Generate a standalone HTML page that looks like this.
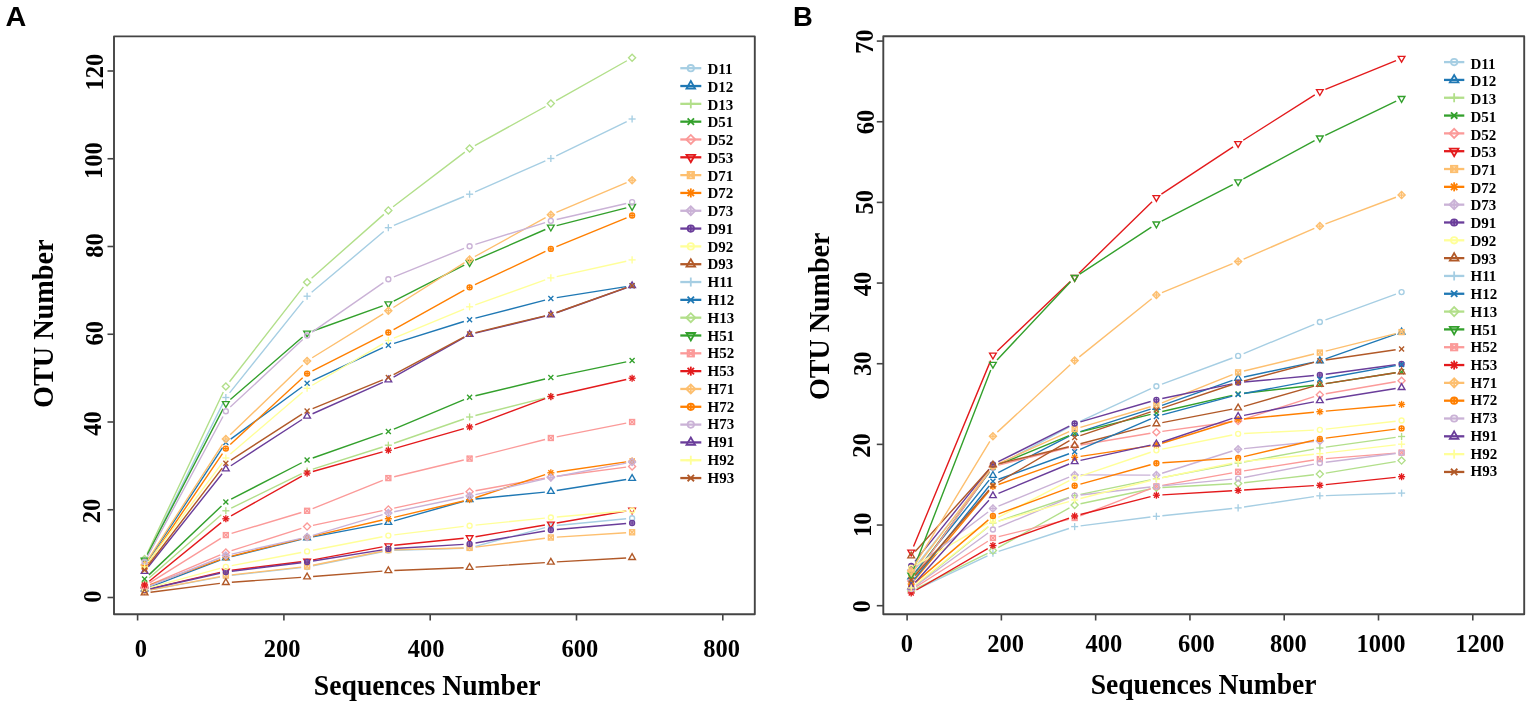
<!DOCTYPE html>
<html><head><meta charset="utf-8"><title>OTU rarefaction curves</title>
<style>
html,body{margin:0;padding:0;background:#fff;}
body{width:1535px;height:709px;overflow:hidden;}
svg{display:block;}
.pl{font-family:"Liberation Sans",Arial,sans-serif;font-weight:bold;font-size:27.4px;fill:#000;}
.tl{font-family:"Liberation Serif","Times New Roman",serif;font-weight:bold;font-size:24.5px;fill:#000;}
.ax{font-family:"Liberation Serif","Times New Roman",serif;font-weight:bold;font-size:29px;fill:#000;}
.lg{font-family:"Liberation Serif","Times New Roman",serif;font-weight:bold;font-size:15px;fill:#000;}
.tk{stroke:#444;stroke-width:1.6;}
</style></head>
<body>
<svg width="1535" height="709" viewBox="0 0 1535 709">
<rect width="1535" height="709" fill="#fff"/>
<text x="5.6" y="26" class="pl" textLength="20.8" lengthAdjust="spacingAndGlyphs">A</text>
<rect x="114" y="36.4" width="640.8" height="577.9" fill="none" stroke="#444" stroke-width="1.9" stroke-linejoin="round"/>
<line x1="107.5" y1="597.50" x2="114" y2="597.50" class="tk"/>
<text transform="translate(100.9 596.50) rotate(-90)" class="tl" text-anchor="middle">0</text>
<line x1="107.5" y1="509.75" x2="114" y2="509.75" class="tk"/>
<text transform="translate(99.5 510.90) rotate(-90)" class="tl" text-anchor="middle">20</text>
<line x1="107.5" y1="422.00" x2="114" y2="422.00" class="tk"/>
<text transform="translate(100.9 423.60) rotate(-90)" class="tl" text-anchor="middle">40</text>
<line x1="107.5" y1="334.25" x2="114" y2="334.25" class="tk"/>
<text transform="translate(102.9 333.20) rotate(-90)" class="tl" text-anchor="middle">60</text>
<line x1="107.5" y1="246.50" x2="114" y2="246.50" class="tk"/>
<text transform="translate(102.6 245.40) rotate(-90)" class="tl" text-anchor="middle">80</text>
<line x1="107.5" y1="158.75" x2="114" y2="158.75" class="tk"/>
<text transform="translate(101.7 160.65) rotate(-90)" class="tl" text-anchor="middle">100</text>
<line x1="107.5" y1="71.00" x2="114" y2="71.00" class="tk"/>
<text transform="translate(102.9 72.10) rotate(-90)" class="tl" text-anchor="middle">120</text>
<line x1="137.60" y1="614" x2="137.60" y2="620.5" class="tk"/>
<text x="140.75" y="656.8" class="tl" text-anchor="middle">0</text>
<line x1="283.90" y1="614" x2="283.90" y2="620.5" class="tk"/>
<text x="282.20" y="656.8" class="tl" text-anchor="middle">200</text>
<line x1="430.20" y1="614" x2="430.20" y2="620.5" class="tk"/>
<text x="426.20" y="656.8" class="tl" text-anchor="middle">400</text>
<line x1="576.50" y1="614" x2="576.50" y2="620.5" class="tk"/>
<text x="579.90" y="656.8" class="tl" text-anchor="middle">600</text>
<line x1="722.80" y1="614" x2="722.80" y2="620.5" class="tk"/>
<text x="721.70" y="656.8" class="tl" text-anchor="middle">800</text>
<text x="427.2" y="695.4" class="ax" text-anchor="middle" textLength="226.7" lengthAdjust="spacingAndGlyphs">Sequences Number</text>
<text transform="translate(52.9 323.7) rotate(-90)" class="ax" text-anchor="middle" textLength="168.5" lengthAdjust="spacingAndGlyphs">OTU Number</text>
<path d="M150.50 589.91L219.95 577.09M231.81 575.34L301.14 567.66M312.98 565.81L382.47 551.69M394.35 550.32L463.60 548.18M475.39 546.43L545.06 527.57M556.82 525.43L626.13 518.77" stroke="#A6CEE3" stroke-width="1.4" fill="none"/><g stroke="#A6CEE3" stroke-width="1.35" fill="none"><circle cx="144.60" cy="591.00" r="2.50"/></g><g stroke="#A6CEE3" stroke-width="1.35" fill="none"><circle cx="225.85" cy="576.00" r="2.50"/></g><g stroke="#A6CEE3" stroke-width="1.35" fill="none"><circle cx="307.10" cy="567.00" r="2.50"/></g><g stroke="#A6CEE3" stroke-width="1.35" fill="none"><circle cx="388.35" cy="550.50" r="2.50"/></g><g stroke="#A6CEE3" stroke-width="1.35" fill="none"><circle cx="469.60" cy="548.00" r="2.50"/></g><g stroke="#A6CEE3" stroke-width="1.35" fill="none"><circle cx="550.85" cy="526.00" r="2.50"/></g><g stroke="#A6CEE3" stroke-width="1.35" fill="none"><circle cx="632.10" cy="518.20" r="2.50"/></g>
<path d="M150.21 586.86L220.24 560.14M231.68 556.57L301.27 539.43M312.99 536.88L382.46 523.62M394.13 520.87L463.82 501.23M475.57 499.00L544.88 492.10M556.77 490.55L626.18 479.45" stroke="#1F78B4" stroke-width="1.4" fill="none"/><g stroke="#1F78B4" stroke-width="1.35" fill="none"><polygon points="144.60,585.11 147.97,590.94 141.23,590.94"/></g><g stroke="#1F78B4" stroke-width="1.35" fill="none"><polygon points="225.85,554.11 229.22,559.94 222.48,559.94"/></g><g stroke="#1F78B4" stroke-width="1.35" fill="none"><polygon points="307.10,534.11 310.47,539.94 303.73,539.94"/></g><g stroke="#1F78B4" stroke-width="1.35" fill="none"><polygon points="388.35,518.61 391.72,524.44 384.98,524.44"/></g><g stroke="#1F78B4" stroke-width="1.35" fill="none"><polygon points="469.60,495.71 472.97,501.54 466.23,501.54"/></g><g stroke="#1F78B4" stroke-width="1.35" fill="none"><polygon points="550.85,487.61 554.22,493.44 547.48,493.44"/></g><g stroke="#1F78B4" stroke-width="1.35" fill="none"><polygon points="632.10,474.61 635.47,480.44 628.73,480.44"/></g>
<path d="M149.11 578.05L221.34 514.75M231.24 508.16L301.71 473.64M312.82 469.18L382.63 447.02M394.02 443.23L463.93 418.97M475.42 415.53L545.03 397.87" stroke="#B2DF8A" stroke-width="1.4" fill="none"/><g stroke="#B2DF8A" stroke-width="1.35" fill="none"><line x1="141.06" y1="582.00" x2="148.14" y2="582.00"/><line x1="144.60" y1="578.46" x2="144.60" y2="585.54"/></g><g stroke="#B2DF8A" stroke-width="1.35" fill="none"><line x1="222.31" y1="510.80" x2="229.39" y2="510.80"/><line x1="225.85" y1="507.26" x2="225.85" y2="514.34"/></g><g stroke="#B2DF8A" stroke-width="1.35" fill="none"><line x1="303.56" y1="471.00" x2="310.64" y2="471.00"/><line x1="307.10" y1="467.46" x2="307.10" y2="474.54"/></g><g stroke="#B2DF8A" stroke-width="1.35" fill="none"><line x1="384.81" y1="445.20" x2="391.89" y2="445.20"/><line x1="388.35" y1="441.66" x2="388.35" y2="448.74"/></g><g stroke="#B2DF8A" stroke-width="1.35" fill="none"><line x1="466.06" y1="417.00" x2="473.14" y2="417.00"/><line x1="469.60" y1="413.46" x2="469.60" y2="420.54"/></g><g stroke="#B2DF8A" stroke-width="1.35" fill="none"><line x1="547.31" y1="396.40" x2="554.39" y2="396.40"/><line x1="550.85" y1="392.86" x2="550.85" y2="399.94"/></g>
<path d="M148.95 574.87L221.50 506.03M231.18 499.15L301.77 462.75M312.76 458.01L382.69 433.39M393.88 429.07L464.07 399.53M475.43 395.79L545.02 379.01M556.72 376.37L626.23 361.83" stroke="#33A02C" stroke-width="1.4" fill="none"/><g stroke="#33A02C" stroke-width="1.35" fill="none"><line x1="142.10" y1="576.50" x2="147.10" y2="581.50"/><line x1="142.10" y1="581.50" x2="147.10" y2="576.50"/></g><g stroke="#33A02C" stroke-width="1.35" fill="none"><line x1="223.35" y1="499.40" x2="228.35" y2="504.40"/><line x1="223.35" y1="504.40" x2="228.35" y2="499.40"/></g><g stroke="#33A02C" stroke-width="1.35" fill="none"><line x1="304.60" y1="457.50" x2="309.60" y2="462.50"/><line x1="304.60" y1="462.50" x2="309.60" y2="457.50"/></g><g stroke="#33A02C" stroke-width="1.35" fill="none"><line x1="385.85" y1="428.90" x2="390.85" y2="433.90"/><line x1="385.85" y1="433.90" x2="390.85" y2="428.90"/></g><g stroke="#33A02C" stroke-width="1.35" fill="none"><line x1="467.10" y1="394.70" x2="472.10" y2="399.70"/><line x1="467.10" y1="399.70" x2="472.10" y2="394.70"/></g><g stroke="#33A02C" stroke-width="1.35" fill="none"><line x1="548.35" y1="375.10" x2="553.35" y2="380.10"/><line x1="548.35" y1="380.10" x2="553.35" y2="375.10"/></g><g stroke="#33A02C" stroke-width="1.35" fill="none"><line x1="629.60" y1="358.10" x2="634.60" y2="363.10"/><line x1="629.60" y1="363.10" x2="634.60" y2="358.10"/></g>
<path d="M150.12 584.65L220.33 554.85M231.57 550.68L301.38 528.42M312.97 525.36L382.48 510.64M394.21 508.13L463.74 493.07M475.50 490.72L544.95 478.08M556.80 476.22L626.15 467.18" stroke="#FB9A99" stroke-width="1.4" fill="none"/><g stroke="#FB9A99" stroke-width="1.35" fill="none"><polygon points="141.06,587.00 144.60,583.46 148.14,587.00 144.60,590.54"/></g><g stroke="#FB9A99" stroke-width="1.35" fill="none"><polygon points="222.31,552.50 225.85,548.96 229.39,552.50 225.85,556.04"/></g><g stroke="#FB9A99" stroke-width="1.35" fill="none"><polygon points="303.56,526.60 307.10,523.06 310.64,526.60 307.10,530.14"/></g><g stroke="#FB9A99" stroke-width="1.35" fill="none"><polygon points="384.81,509.40 388.35,505.86 391.89,509.40 388.35,512.94"/></g><g stroke="#FB9A99" stroke-width="1.35" fill="none"><polygon points="466.06,491.80 469.60,488.26 473.14,491.80 469.60,495.34"/></g><g stroke="#FB9A99" stroke-width="1.35" fill="none"><polygon points="547.31,477.00 550.85,473.46 554.39,477.00 550.85,480.54"/></g><g stroke="#FB9A99" stroke-width="1.35" fill="none"><polygon points="628.56,466.40 632.10,462.86 635.64,466.40 632.10,469.94"/></g>
<path d="M150.44 588.63L220.01 572.37M231.81 570.27L301.14 561.73M313.00 559.90L382.45 546.90M394.32 545.20L463.63 538.30M475.52 536.70L544.93 525.00M556.76 522.98L626.19 511.02" stroke="#E31A1C" stroke-width="1.4" fill="none"/><g stroke="#E31A1C" stroke-width="1.35" fill="none"><polygon points="144.60,593.89 147.97,588.06 141.23,588.06"/></g><g stroke="#E31A1C" stroke-width="1.35" fill="none"><polygon points="225.85,574.89 229.22,569.06 222.48,569.06"/></g><g stroke="#E31A1C" stroke-width="1.35" fill="none"><polygon points="307.10,564.89 310.47,559.06 303.73,559.06"/></g><g stroke="#E31A1C" stroke-width="1.35" fill="none"><polygon points="388.35,549.69 391.72,543.86 384.98,543.86"/></g><g stroke="#E31A1C" stroke-width="1.35" fill="none"><polygon points="469.60,541.59 472.97,535.76 466.23,535.76"/></g><g stroke="#E31A1C" stroke-width="1.35" fill="none"><polygon points="550.85,527.89 554.22,522.06 547.48,522.06"/></g><g stroke="#E31A1C" stroke-width="1.35" fill="none"><polygon points="632.10,513.89 635.47,508.06 628.73,508.06"/></g>
<path d="M150.49 589.88L219.96 576.62M231.81 574.84L301.14 567.16M312.98 565.31L382.47 551.19M394.35 549.84L463.60 548.06M475.55 547.14L544.90 538.26M556.84 537.12L626.11 532.68" stroke="#FDBF6F" stroke-width="1.4" fill="none"/><g stroke="#FDBF6F" stroke-width="1.35" fill="none"><rect x="142.10" y="588.50" width="5.00" height="5.00"/><line x1="142.10" y1="588.50" x2="147.10" y2="593.50"/><line x1="142.10" y1="593.50" x2="147.10" y2="588.50"/></g><g stroke="#FDBF6F" stroke-width="1.35" fill="none"><rect x="223.35" y="573.00" width="5.00" height="5.00"/><line x1="223.35" y1="573.00" x2="228.35" y2="578.00"/><line x1="223.35" y1="578.00" x2="228.35" y2="573.00"/></g><g stroke="#FDBF6F" stroke-width="1.35" fill="none"><rect x="304.60" y="564.00" width="5.00" height="5.00"/><line x1="304.60" y1="564.00" x2="309.60" y2="569.00"/><line x1="304.60" y1="569.00" x2="309.60" y2="564.00"/></g><g stroke="#FDBF6F" stroke-width="1.35" fill="none"><rect x="385.85" y="547.50" width="5.00" height="5.00"/><line x1="385.85" y1="547.50" x2="390.85" y2="552.50"/><line x1="385.85" y1="552.50" x2="390.85" y2="547.50"/></g><g stroke="#FDBF6F" stroke-width="1.35" fill="none"><rect x="467.10" y="545.40" width="5.00" height="5.00"/><line x1="467.10" y1="545.40" x2="472.10" y2="550.40"/><line x1="467.10" y1="550.40" x2="472.10" y2="545.40"/></g><g stroke="#FDBF6F" stroke-width="1.35" fill="none"><rect x="548.35" y="535.00" width="5.00" height="5.00"/><line x1="548.35" y1="535.00" x2="553.35" y2="540.00"/><line x1="548.35" y1="540.00" x2="553.35" y2="535.00"/></g><g stroke="#FDBF6F" stroke-width="1.35" fill="none"><rect x="629.60" y="529.80" width="5.00" height="5.00"/><line x1="629.60" y1="529.80" x2="634.60" y2="534.80"/><line x1="629.60" y1="534.80" x2="634.60" y2="529.80"/></g>
<path d="M150.24 584.95L220.21 559.55M231.68 556.07L301.27 538.93M312.95 536.15L382.50 520.05M394.19 517.33L463.76 500.97M475.30 497.72L545.15 474.68M556.79 471.94L626.16 461.86" stroke="#FF7F00" stroke-width="1.4" fill="none"/><g stroke="#FF7F00" stroke-width="1.35" fill="none"><line x1="142.10" y1="584.50" x2="147.10" y2="589.50"/><line x1="142.10" y1="589.50" x2="147.10" y2="584.50"/><line x1="141.06" y1="587.00" x2="148.14" y2="587.00"/><line x1="144.60" y1="583.46" x2="144.60" y2="590.54"/></g><g stroke="#FF7F00" stroke-width="1.35" fill="none"><line x1="223.35" y1="555.00" x2="228.35" y2="560.00"/><line x1="223.35" y1="560.00" x2="228.35" y2="555.00"/><line x1="222.31" y1="557.50" x2="229.39" y2="557.50"/><line x1="225.85" y1="553.96" x2="225.85" y2="561.04"/></g><g stroke="#FF7F00" stroke-width="1.35" fill="none"><line x1="304.60" y1="535.00" x2="309.60" y2="540.00"/><line x1="304.60" y1="540.00" x2="309.60" y2="535.00"/><line x1="303.56" y1="537.50" x2="310.64" y2="537.50"/><line x1="307.10" y1="533.96" x2="307.10" y2="541.04"/></g><g stroke="#FF7F00" stroke-width="1.35" fill="none"><line x1="385.85" y1="516.20" x2="390.85" y2="521.20"/><line x1="385.85" y1="521.20" x2="390.85" y2="516.20"/><line x1="384.81" y1="518.70" x2="391.89" y2="518.70"/><line x1="388.35" y1="515.16" x2="388.35" y2="522.24"/></g><g stroke="#FF7F00" stroke-width="1.35" fill="none"><line x1="467.10" y1="497.10" x2="472.10" y2="502.10"/><line x1="467.10" y1="502.10" x2="472.10" y2="497.10"/><line x1="466.06" y1="499.60" x2="473.14" y2="499.60"/><line x1="469.60" y1="496.06" x2="469.60" y2="503.14"/></g><g stroke="#FF7F00" stroke-width="1.35" fill="none"><line x1="548.35" y1="470.30" x2="553.35" y2="475.30"/><line x1="548.35" y1="475.30" x2="553.35" y2="470.30"/><line x1="547.31" y1="472.80" x2="554.39" y2="472.80"/><line x1="550.85" y1="469.26" x2="550.85" y2="476.34"/></g><g stroke="#FF7F00" stroke-width="1.35" fill="none"><line x1="629.60" y1="458.50" x2="634.60" y2="463.50"/><line x1="629.60" y1="463.50" x2="634.60" y2="458.50"/><line x1="628.56" y1="461.00" x2="635.64" y2="461.00"/><line x1="632.10" y1="457.46" x2="632.10" y2="464.54"/></g>
<path d="M150.17 585.77L220.28 557.73M231.70 554.17L301.25 538.33M312.85 535.30L382.60 514.70M394.22 511.77L463.73 497.23M475.45 494.67L545.00 478.93M556.74 476.47L626.21 463.13" stroke="#CAB2D6" stroke-width="1.4" fill="none"/><g stroke="#CAB2D6" stroke-width="1.35" fill="none"><polygon points="141.06,588.00 144.60,584.46 148.14,588.00 144.60,591.54"/><line x1="141.06" y1="588.00" x2="148.14" y2="588.00"/><line x1="144.60" y1="584.46" x2="144.60" y2="591.54"/></g><g stroke="#CAB2D6" stroke-width="1.35" fill="none"><polygon points="222.31,555.50 225.85,551.96 229.39,555.50 225.85,559.04"/><line x1="222.31" y1="555.50" x2="229.39" y2="555.50"/><line x1="225.85" y1="551.96" x2="225.85" y2="559.04"/></g><g stroke="#CAB2D6" stroke-width="1.35" fill="none"><polygon points="303.56,537.00 307.10,533.46 310.64,537.00 307.10,540.54"/><line x1="303.56" y1="537.00" x2="310.64" y2="537.00"/><line x1="307.10" y1="533.46" x2="307.10" y2="540.54"/></g><g stroke="#CAB2D6" stroke-width="1.35" fill="none"><polygon points="384.81,513.00 388.35,509.46 391.89,513.00 388.35,516.54"/><line x1="384.81" y1="513.00" x2="391.89" y2="513.00"/><line x1="388.35" y1="509.46" x2="388.35" y2="516.54"/></g><g stroke="#CAB2D6" stroke-width="1.35" fill="none"><polygon points="466.06,496.00 469.60,492.46 473.14,496.00 469.60,499.54"/><line x1="466.06" y1="496.00" x2="473.14" y2="496.00"/><line x1="469.60" y1="492.46" x2="469.60" y2="499.54"/></g><g stroke="#CAB2D6" stroke-width="1.35" fill="none"><polygon points="547.31,477.60 550.85,474.06 554.39,477.60 550.85,481.14"/><line x1="547.31" y1="477.60" x2="554.39" y2="477.60"/><line x1="550.85" y1="474.06" x2="550.85" y2="481.14"/></g><g stroke="#CAB2D6" stroke-width="1.35" fill="none"><polygon points="628.56,462.00 632.10,458.46 635.64,462.00 632.10,465.54"/><line x1="628.56" y1="462.00" x2="635.64" y2="462.00"/><line x1="632.10" y1="458.46" x2="632.10" y2="465.54"/></g>
<path d="M150.46 588.70L219.99 573.30M231.81 571.27L301.14 562.73M313.02 561.04L382.43 549.86M394.34 548.54L463.61 544.36M475.51 542.98L544.94 531.02M556.83 529.48L626.12 523.52" stroke="#6A3D9A" stroke-width="1.4" fill="none"/><g stroke="#6A3D9A" stroke-width="1.35" fill="none"><circle cx="144.60" cy="590.00" r="2.50"/><line x1="142.10" y1="590.00" x2="147.10" y2="590.00"/><line x1="144.60" y1="587.50" x2="144.60" y2="592.50"/></g><g stroke="#6A3D9A" stroke-width="1.35" fill="none"><circle cx="225.85" cy="572.00" r="2.50"/><line x1="223.35" y1="572.00" x2="228.35" y2="572.00"/><line x1="225.85" y1="569.50" x2="225.85" y2="574.50"/></g><g stroke="#6A3D9A" stroke-width="1.35" fill="none"><circle cx="307.10" cy="562.00" r="2.50"/><line x1="304.60" y1="562.00" x2="309.60" y2="562.00"/><line x1="307.10" y1="559.50" x2="307.10" y2="564.50"/></g><g stroke="#6A3D9A" stroke-width="1.35" fill="none"><circle cx="388.35" cy="548.90" r="2.50"/><line x1="385.85" y1="548.90" x2="390.85" y2="548.90"/><line x1="388.35" y1="546.40" x2="388.35" y2="551.40"/></g><g stroke="#6A3D9A" stroke-width="1.35" fill="none"><circle cx="469.60" cy="544.00" r="2.50"/><line x1="467.10" y1="544.00" x2="472.10" y2="544.00"/><line x1="469.60" y1="541.50" x2="469.60" y2="546.50"/></g><g stroke="#6A3D9A" stroke-width="1.35" fill="none"><circle cx="550.85" cy="530.00" r="2.50"/><line x1="548.35" y1="530.00" x2="553.35" y2="530.00"/><line x1="550.85" y1="527.50" x2="550.85" y2="532.50"/></g><g stroke="#6A3D9A" stroke-width="1.35" fill="none"><circle cx="632.10" cy="523.00" r="2.50"/><line x1="629.60" y1="523.00" x2="634.60" y2="523.00"/><line x1="632.10" y1="520.50" x2="632.10" y2="525.50"/></g>
<path d="M150.39 587.42L220.06 568.38M231.75 565.68L301.20 552.52M312.99 550.25L382.46 536.75M394.31 534.87L463.64 526.43M475.57 525.10L544.88 518.10M556.83 516.98L626.12 511.02" stroke="#FFFF99" stroke-width="1.4" fill="none"/><g stroke="#FFFF99" stroke-width="1.35" fill="none"><circle cx="144.60" cy="589.00" r="2.50"/></g><g stroke="#FFFF99" stroke-width="1.35" fill="none"><circle cx="225.85" cy="566.80" r="2.50"/></g><g stroke="#FFFF99" stroke-width="1.35" fill="none"><circle cx="307.10" cy="551.40" r="2.50"/></g><g stroke="#FFFF99" stroke-width="1.35" fill="none"><circle cx="388.35" cy="535.60" r="2.50"/></g><g stroke="#FFFF99" stroke-width="1.35" fill="none"><circle cx="469.60" cy="525.70" r="2.50"/></g><g stroke="#FFFF99" stroke-width="1.35" fill="none"><circle cx="550.85" cy="517.50" r="2.50"/></g><g stroke="#FFFF99" stroke-width="1.35" fill="none"><circle cx="632.10" cy="510.50" r="2.50"/></g>
<path d="M150.55 592.24L219.90 583.36M231.84 582.19L301.11 577.41M313.08 576.54L382.37 571.16M394.35 570.46L463.60 567.74M475.59 567.11L544.86 562.59M556.84 561.86L626.11 557.94" stroke="#B15928" stroke-width="1.4" fill="none"/><g stroke="#B15928" stroke-width="1.35" fill="none"><polygon points="144.60,589.11 147.97,594.94 141.23,594.94"/></g><g stroke="#B15928" stroke-width="1.35" fill="none"><polygon points="225.85,578.71 229.22,584.54 222.48,584.54"/></g><g stroke="#B15928" stroke-width="1.35" fill="none"><polygon points="307.10,573.11 310.47,578.94 303.73,578.94"/></g><g stroke="#B15928" stroke-width="1.35" fill="none"><polygon points="388.35,566.81 391.72,572.64 384.98,572.64"/></g><g stroke="#B15928" stroke-width="1.35" fill="none"><polygon points="469.60,563.61 472.97,569.44 466.23,569.44"/></g><g stroke="#B15928" stroke-width="1.35" fill="none"><polygon points="550.85,558.31 554.22,564.14 547.48,564.14"/></g><g stroke="#B15928" stroke-width="1.35" fill="none"><polygon points="632.10,553.71 635.47,559.54 628.73,559.54"/></g>
<path d="M147.28 554.63L223.17 402.87M229.60 392.82L303.35 300.88M311.69 292.33L383.76 231.57M393.90 225.41L464.05 196.49M475.09 191.79L545.36 160.91M556.25 155.88L626.70 121.62" stroke="#A6CEE3" stroke-width="1.4" fill="none"/><g stroke="#A6CEE3" stroke-width="1.35" fill="none"><line x1="141.06" y1="560.00" x2="148.14" y2="560.00"/><line x1="144.60" y1="556.46" x2="144.60" y2="563.54"/></g><g stroke="#A6CEE3" stroke-width="1.35" fill="none"><line x1="222.31" y1="397.50" x2="229.39" y2="397.50"/><line x1="225.85" y1="393.96" x2="225.85" y2="401.04"/></g><g stroke="#A6CEE3" stroke-width="1.35" fill="none"><line x1="303.56" y1="296.20" x2="310.64" y2="296.20"/><line x1="307.10" y1="292.66" x2="307.10" y2="299.74"/></g><g stroke="#A6CEE3" stroke-width="1.35" fill="none"><line x1="384.81" y1="227.70" x2="391.89" y2="227.70"/><line x1="388.35" y1="224.16" x2="388.35" y2="231.24"/></g><g stroke="#A6CEE3" stroke-width="1.35" fill="none"><line x1="466.06" y1="194.20" x2="473.14" y2="194.20"/><line x1="469.60" y1="190.66" x2="469.60" y2="197.74"/></g><g stroke="#A6CEE3" stroke-width="1.35" fill="none"><line x1="547.31" y1="158.50" x2="554.39" y2="158.50"/><line x1="550.85" y1="154.96" x2="550.85" y2="162.04"/></g><g stroke="#A6CEE3" stroke-width="1.35" fill="none"><line x1="628.56" y1="119.00" x2="635.64" y2="119.00"/><line x1="632.10" y1="115.46" x2="632.10" y2="122.54"/></g>
<path d="M147.90 560.99L222.55 447.61M230.69 439.06L302.26 386.74M312.53 380.66L382.92 347.74M394.07 343.40L463.88 321.50M475.41 318.19L545.04 300.11M556.78 297.66L626.17 286.64" stroke="#1F78B4" stroke-width="1.4" fill="none"/><g stroke="#1F78B4" stroke-width="1.35" fill="none"><line x1="142.10" y1="563.50" x2="147.10" y2="568.50"/><line x1="142.10" y1="568.50" x2="147.10" y2="563.50"/></g><g stroke="#1F78B4" stroke-width="1.35" fill="none"><line x1="223.35" y1="440.10" x2="228.35" y2="445.10"/><line x1="223.35" y1="445.10" x2="228.35" y2="440.10"/></g><g stroke="#1F78B4" stroke-width="1.35" fill="none"><line x1="304.60" y1="380.70" x2="309.60" y2="385.70"/><line x1="304.60" y1="385.70" x2="309.60" y2="380.70"/></g><g stroke="#1F78B4" stroke-width="1.35" fill="none"><line x1="385.85" y1="342.70" x2="390.85" y2="347.70"/><line x1="385.85" y1="347.70" x2="390.85" y2="342.70"/></g><g stroke="#1F78B4" stroke-width="1.35" fill="none"><line x1="467.10" y1="317.20" x2="472.10" y2="322.20"/><line x1="467.10" y1="322.20" x2="472.10" y2="317.20"/></g><g stroke="#1F78B4" stroke-width="1.35" fill="none"><line x1="548.35" y1="296.10" x2="553.35" y2="301.10"/><line x1="548.35" y1="301.10" x2="553.35" y2="296.10"/></g><g stroke="#1F78B4" stroke-width="1.35" fill="none"><line x1="629.60" y1="283.20" x2="634.60" y2="288.20"/><line x1="629.60" y1="288.20" x2="634.60" y2="283.20"/></g>
<path d="M147.16 553.57L223.29 391.93M229.54 381.77L303.41 286.93M311.60 278.23L383.85 214.37M393.12 206.76L464.83 152.14M474.85 145.60L545.60 106.50M556.08 100.65L626.87 60.75" stroke="#B2DF8A" stroke-width="1.4" fill="none"/><g stroke="#B2DF8A" stroke-width="1.35" fill="none"><polygon points="141.06,559.00 144.60,555.46 148.14,559.00 144.60,562.54"/></g><g stroke="#B2DF8A" stroke-width="1.35" fill="none"><polygon points="222.31,386.50 225.85,382.96 229.39,386.50 225.85,390.04"/></g><g stroke="#B2DF8A" stroke-width="1.35" fill="none"><polygon points="303.56,282.20 307.10,278.66 310.64,282.20 307.10,285.74"/></g><g stroke="#B2DF8A" stroke-width="1.35" fill="none"><polygon points="384.81,210.40 388.35,206.86 391.89,210.40 388.35,213.94"/></g><g stroke="#B2DF8A" stroke-width="1.35" fill="none"><polygon points="466.06,148.50 469.60,144.96 473.14,148.50 469.60,152.04"/></g><g stroke="#B2DF8A" stroke-width="1.35" fill="none"><polygon points="547.31,103.60 550.85,100.06 554.39,103.60 550.85,107.14"/></g><g stroke="#B2DF8A" stroke-width="1.35" fill="none"><polygon points="628.56,57.80 632.10,54.26 635.64,57.80 632.10,61.34"/></g>
<path d="M147.36 554.67L223.09 408.83M230.38 399.57L302.57 336.93M312.75 330.97L382.70 305.83M393.70 301.08L464.25 265.22M475.10 260.10L545.35 229.50M556.66 225.62L626.29 207.88" stroke="#33A02C" stroke-width="1.4" fill="none"/><g stroke="#33A02C" stroke-width="1.35" fill="none"><polygon points="144.60,563.89 147.97,558.06 141.23,558.06"/></g><g stroke="#33A02C" stroke-width="1.35" fill="none"><polygon points="225.85,407.39 229.22,401.56 222.48,401.56"/></g><g stroke="#33A02C" stroke-width="1.35" fill="none"><polygon points="307.10,336.89 310.47,331.06 303.73,331.06"/></g><g stroke="#33A02C" stroke-width="1.35" fill="none"><polygon points="388.35,307.69 391.72,301.86 384.98,301.86"/></g><g stroke="#33A02C" stroke-width="1.35" fill="none"><polygon points="469.60,266.39 472.97,260.56 466.23,260.56"/></g><g stroke="#33A02C" stroke-width="1.35" fill="none"><polygon points="550.85,230.99 554.22,225.16 547.48,225.16"/></g><g stroke="#33A02C" stroke-width="1.35" fill="none"><polygon points="632.10,210.29 635.47,204.46 628.73,204.46"/></g>
<path d="M149.68 582.81L220.77 538.29M231.60 533.38L301.35 512.52M312.67 508.56L382.78 480.34M394.18 476.70L463.77 460.00M475.42 457.13L545.03 439.47M556.74 436.84L626.21 423.16" stroke="#FB9A99" stroke-width="1.4" fill="none"/><g stroke="#FB9A99" stroke-width="1.35" fill="none"><rect x="142.10" y="583.50" width="5.00" height="5.00"/><line x1="142.10" y1="583.50" x2="147.10" y2="588.50"/><line x1="142.10" y1="588.50" x2="147.10" y2="583.50"/></g><g stroke="#FB9A99" stroke-width="1.35" fill="none"><rect x="223.35" y="532.60" width="5.00" height="5.00"/><line x1="223.35" y1="532.60" x2="228.35" y2="537.60"/><line x1="223.35" y1="537.60" x2="228.35" y2="532.60"/></g><g stroke="#FB9A99" stroke-width="1.35" fill="none"><rect x="304.60" y="508.30" width="5.00" height="5.00"/><line x1="304.60" y1="508.30" x2="309.60" y2="513.30"/><line x1="304.60" y1="513.30" x2="309.60" y2="508.30"/></g><g stroke="#FB9A99" stroke-width="1.35" fill="none"><rect x="385.85" y="475.60" width="5.00" height="5.00"/><line x1="385.85" y1="475.60" x2="390.85" y2="480.60"/><line x1="385.85" y1="480.60" x2="390.85" y2="475.60"/></g><g stroke="#FB9A99" stroke-width="1.35" fill="none"><rect x="467.10" y="456.10" width="5.00" height="5.00"/><line x1="467.10" y1="456.10" x2="472.10" y2="461.10"/><line x1="467.10" y1="461.10" x2="472.10" y2="456.10"/></g><g stroke="#FB9A99" stroke-width="1.35" fill="none"><rect x="548.35" y="435.50" width="5.00" height="5.00"/><line x1="548.35" y1="435.50" x2="553.35" y2="440.50"/><line x1="548.35" y1="440.50" x2="553.35" y2="435.50"/></g><g stroke="#FB9A99" stroke-width="1.35" fill="none"><rect x="629.60" y="419.50" width="5.00" height="5.00"/><line x1="629.60" y1="419.50" x2="634.60" y2="424.50"/><line x1="629.60" y1="424.50" x2="634.60" y2="419.50"/></g>
<path d="M149.25 581.21L221.20 522.59M231.08 515.86L301.87 476.04M312.88 471.47L382.57 451.83M394.12 448.55L463.83 428.55M475.22 424.80L545.23 398.70M556.70 395.27L626.25 379.53" stroke="#E31A1C" stroke-width="1.4" fill="none"/><g stroke="#E31A1C" stroke-width="1.35" fill="none"><line x1="142.10" y1="582.50" x2="147.10" y2="587.50"/><line x1="142.10" y1="587.50" x2="147.10" y2="582.50"/><line x1="141.06" y1="585.00" x2="148.14" y2="585.00"/><line x1="144.60" y1="581.46" x2="144.60" y2="588.54"/></g><g stroke="#E31A1C" stroke-width="1.35" fill="none"><line x1="223.35" y1="516.30" x2="228.35" y2="521.30"/><line x1="223.35" y1="521.30" x2="228.35" y2="516.30"/><line x1="222.31" y1="518.80" x2="229.39" y2="518.80"/><line x1="225.85" y1="515.26" x2="225.85" y2="522.34"/></g><g stroke="#E31A1C" stroke-width="1.35" fill="none"><line x1="304.60" y1="470.60" x2="309.60" y2="475.60"/><line x1="304.60" y1="475.60" x2="309.60" y2="470.60"/><line x1="303.56" y1="473.10" x2="310.64" y2="473.10"/><line x1="307.10" y1="469.56" x2="307.10" y2="476.64"/></g><g stroke="#E31A1C" stroke-width="1.35" fill="none"><line x1="385.85" y1="447.70" x2="390.85" y2="452.70"/><line x1="385.85" y1="452.70" x2="390.85" y2="447.70"/><line x1="384.81" y1="450.20" x2="391.89" y2="450.20"/><line x1="388.35" y1="446.66" x2="388.35" y2="453.74"/></g><g stroke="#E31A1C" stroke-width="1.35" fill="none"><line x1="467.10" y1="424.40" x2="472.10" y2="429.40"/><line x1="467.10" y1="429.40" x2="472.10" y2="424.40"/><line x1="466.06" y1="426.90" x2="473.14" y2="426.90"/><line x1="469.60" y1="423.36" x2="469.60" y2="430.44"/></g><g stroke="#E31A1C" stroke-width="1.35" fill="none"><line x1="548.35" y1="394.10" x2="553.35" y2="399.10"/><line x1="548.35" y1="399.10" x2="553.35" y2="394.10"/><line x1="547.31" y1="396.60" x2="554.39" y2="396.60"/><line x1="550.85" y1="393.06" x2="550.85" y2="400.14"/></g><g stroke="#E31A1C" stroke-width="1.35" fill="none"><line x1="629.60" y1="375.70" x2="634.60" y2="380.70"/><line x1="629.60" y1="380.70" x2="634.60" y2="375.70"/><line x1="628.56" y1="378.20" x2="635.64" y2="378.20"/><line x1="632.10" y1="374.66" x2="632.10" y2="381.74"/></g>
<path d="M147.85 559.96L222.60 444.04M230.18 434.84L302.77 365.06M312.20 357.75L383.25 313.85M393.42 307.50L464.53 262.60M474.86 256.51L545.59 217.69M556.37 212.45L626.58 182.55" stroke="#FDBF6F" stroke-width="1.4" fill="none"/><g stroke="#FDBF6F" stroke-width="1.35" fill="none"><polygon points="141.06,565.00 144.60,561.46 148.14,565.00 144.60,568.54"/><line x1="141.06" y1="565.00" x2="148.14" y2="565.00"/><line x1="144.60" y1="561.46" x2="144.60" y2="568.54"/></g><g stroke="#FDBF6F" stroke-width="1.35" fill="none"><polygon points="222.31,439.00 225.85,435.46 229.39,439.00 225.85,442.54"/><line x1="222.31" y1="439.00" x2="229.39" y2="439.00"/><line x1="225.85" y1="435.46" x2="225.85" y2="442.54"/></g><g stroke="#FDBF6F" stroke-width="1.35" fill="none"><polygon points="303.56,360.90 307.10,357.36 310.64,360.90 307.10,364.44"/><line x1="303.56" y1="360.90" x2="310.64" y2="360.90"/><line x1="307.10" y1="357.36" x2="307.10" y2="364.44"/></g><g stroke="#FDBF6F" stroke-width="1.35" fill="none"><polygon points="384.81,310.70 388.35,307.16 391.89,310.70 388.35,314.24"/><line x1="384.81" y1="310.70" x2="391.89" y2="310.70"/><line x1="388.35" y1="307.16" x2="388.35" y2="314.24"/></g><g stroke="#FDBF6F" stroke-width="1.35" fill="none"><polygon points="466.06,259.40 469.60,255.86 473.14,259.40 469.60,262.94"/><line x1="466.06" y1="259.40" x2="473.14" y2="259.40"/><line x1="469.60" y1="255.86" x2="469.60" y2="262.94"/></g><g stroke="#FDBF6F" stroke-width="1.35" fill="none"><polygon points="547.31,214.80 550.85,211.26 554.39,214.80 550.85,218.34"/><line x1="547.31" y1="214.80" x2="554.39" y2="214.80"/><line x1="550.85" y1="211.26" x2="550.85" y2="218.34"/></g><g stroke="#FDBF6F" stroke-width="1.35" fill="none"><polygon points="628.56,180.20 632.10,176.66 635.64,180.20 632.10,183.74"/><line x1="628.56" y1="180.20" x2="635.64" y2="180.20"/><line x1="632.10" y1="176.66" x2="632.10" y2="183.74"/></g>
<path d="M147.98 563.04L222.47 453.56M230.26 444.53L302.69 377.67M312.45 370.89L383.00 335.21M393.59 329.58L464.36 290.22M475.02 284.74L545.43 251.46M556.40 246.62L626.55 217.78" stroke="#FF7F00" stroke-width="1.4" fill="none"/><g stroke="#FF7F00" stroke-width="1.35" fill="none"><circle cx="144.60" cy="568.00" r="2.50"/><line x1="142.10" y1="568.00" x2="147.10" y2="568.00"/><line x1="144.60" y1="565.50" x2="144.60" y2="570.50"/></g><g stroke="#FF7F00" stroke-width="1.35" fill="none"><circle cx="225.85" cy="448.60" r="2.50"/><line x1="223.35" y1="448.60" x2="228.35" y2="448.60"/><line x1="225.85" y1="446.10" x2="225.85" y2="451.10"/></g><g stroke="#FF7F00" stroke-width="1.35" fill="none"><circle cx="307.10" cy="373.60" r="2.50"/><line x1="304.60" y1="373.60" x2="309.60" y2="373.60"/><line x1="307.10" y1="371.10" x2="307.10" y2="376.10"/></g><g stroke="#FF7F00" stroke-width="1.35" fill="none"><circle cx="388.35" cy="332.50" r="2.50"/><line x1="385.85" y1="332.50" x2="390.85" y2="332.50"/><line x1="388.35" y1="330.00" x2="388.35" y2="335.00"/></g><g stroke="#FF7F00" stroke-width="1.35" fill="none"><circle cx="469.60" cy="287.30" r="2.50"/><line x1="467.10" y1="287.30" x2="472.10" y2="287.30"/><line x1="469.60" y1="284.80" x2="469.60" y2="289.80"/></g><g stroke="#FF7F00" stroke-width="1.35" fill="none"><circle cx="550.85" cy="248.90" r="2.50"/><line x1="548.35" y1="248.90" x2="553.35" y2="248.90"/><line x1="550.85" y1="246.40" x2="550.85" y2="251.40"/></g><g stroke="#FF7F00" stroke-width="1.35" fill="none"><circle cx="632.10" cy="215.50" r="2.50"/><line x1="629.60" y1="215.50" x2="634.60" y2="215.50"/><line x1="632.10" y1="213.00" x2="632.10" y2="218.00"/></g>
<path d="M147.45 556.72L223.00 416.48M230.24 407.11L302.71 339.59M312.03 332.08L383.42 282.62M393.91 276.94L464.04 248.46M475.33 244.41L545.12 222.59M556.70 219.45L626.25 203.45" stroke="#CAB2D6" stroke-width="1.4" fill="none"/><g stroke="#CAB2D6" stroke-width="1.35" fill="none"><circle cx="144.60" cy="562.00" r="2.50"/></g><g stroke="#CAB2D6" stroke-width="1.35" fill="none"><circle cx="225.85" cy="411.20" r="2.50"/></g><g stroke="#CAB2D6" stroke-width="1.35" fill="none"><circle cx="307.10" cy="335.50" r="2.50"/></g><g stroke="#CAB2D6" stroke-width="1.35" fill="none"><circle cx="388.35" cy="279.20" r="2.50"/></g><g stroke="#CAB2D6" stroke-width="1.35" fill="none"><circle cx="469.60" cy="246.20" r="2.50"/></g><g stroke="#CAB2D6" stroke-width="1.35" fill="none"><circle cx="550.85" cy="220.80" r="2.50"/></g><g stroke="#CAB2D6" stroke-width="1.35" fill="none"><circle cx="632.10" cy="202.10" r="2.50"/></g>
<path d="M148.33 566.80L222.12 473.70M230.88 465.73L302.07 419.47M312.58 413.76L382.87 382.44M393.59 377.07L464.36 337.43M475.43 333.09L545.02 316.21M556.50 312.78L626.45 287.72" stroke="#6A3D9A" stroke-width="1.4" fill="none"/><g stroke="#6A3D9A" stroke-width="1.35" fill="none"><polygon points="144.60,567.61 147.97,573.44 141.23,573.44"/></g><g stroke="#6A3D9A" stroke-width="1.35" fill="none"><polygon points="225.85,465.11 229.22,470.94 222.48,470.94"/></g><g stroke="#6A3D9A" stroke-width="1.35" fill="none"><polygon points="307.10,412.31 310.47,418.14 303.73,418.14"/></g><g stroke="#6A3D9A" stroke-width="1.35" fill="none"><polygon points="388.35,376.11 391.72,381.94 384.98,381.94"/></g><g stroke="#6A3D9A" stroke-width="1.35" fill="none"><polygon points="469.60,330.61 472.97,336.44 466.23,336.44"/></g><g stroke="#6A3D9A" stroke-width="1.35" fill="none"><polygon points="550.85,310.91 554.22,316.74 547.48,316.74"/></g><g stroke="#6A3D9A" stroke-width="1.35" fill="none"><polygon points="632.10,281.81 635.47,287.64 628.73,287.64"/></g>
<path d="M148.19 562.19L222.26 462.81M230.40 454.09L302.55 392.21M312.27 385.26L383.18 343.54M393.89 338.20L464.06 309.10M475.25 304.79L545.20 279.91M556.71 276.60L626.24 261.20" stroke="#FFFF99" stroke-width="1.4" fill="none"/><g stroke="#FFFF99" stroke-width="1.35" fill="none"><line x1="141.06" y1="567.00" x2="148.14" y2="567.00"/><line x1="144.60" y1="563.46" x2="144.60" y2="570.54"/></g><g stroke="#FFFF99" stroke-width="1.35" fill="none"><line x1="222.31" y1="458.00" x2="229.39" y2="458.00"/><line x1="225.85" y1="454.46" x2="225.85" y2="461.54"/></g><g stroke="#FFFF99" stroke-width="1.35" fill="none"><line x1="303.56" y1="388.30" x2="310.64" y2="388.30"/><line x1="307.10" y1="384.76" x2="307.10" y2="391.84"/></g><g stroke="#FFFF99" stroke-width="1.35" fill="none"><line x1="384.81" y1="340.50" x2="391.89" y2="340.50"/><line x1="388.35" y1="336.96" x2="388.35" y2="344.04"/></g><g stroke="#FFFF99" stroke-width="1.35" fill="none"><line x1="466.06" y1="306.80" x2="473.14" y2="306.80"/><line x1="469.60" y1="303.26" x2="469.60" y2="310.34"/></g><g stroke="#FFFF99" stroke-width="1.35" fill="none"><line x1="547.31" y1="277.90" x2="554.39" y2="277.90"/><line x1="550.85" y1="274.36" x2="550.85" y2="281.44"/></g><g stroke="#FFFF99" stroke-width="1.35" fill="none"><line x1="628.56" y1="259.90" x2="635.64" y2="259.90"/><line x1="632.10" y1="256.36" x2="632.10" y2="263.44"/></g>
<path d="M148.23 565.23L222.22 468.07M230.89 460.05L302.06 414.15M312.65 408.62L382.80 379.78M393.64 374.67L464.31 336.83M475.43 332.60L545.02 315.90M556.51 312.50L626.44 287.70" stroke="#B15928" stroke-width="1.4" fill="none"/><g stroke="#B15928" stroke-width="1.35" fill="none"><line x1="142.10" y1="567.50" x2="147.10" y2="572.50"/><line x1="142.10" y1="572.50" x2="147.10" y2="567.50"/></g><g stroke="#B15928" stroke-width="1.35" fill="none"><line x1="223.35" y1="460.80" x2="228.35" y2="465.80"/><line x1="223.35" y1="465.80" x2="228.35" y2="460.80"/></g><g stroke="#B15928" stroke-width="1.35" fill="none"><line x1="304.60" y1="408.40" x2="309.60" y2="413.40"/><line x1="304.60" y1="413.40" x2="309.60" y2="408.40"/></g><g stroke="#B15928" stroke-width="1.35" fill="none"><line x1="385.85" y1="375.00" x2="390.85" y2="380.00"/><line x1="385.85" y1="380.00" x2="390.85" y2="375.00"/></g><g stroke="#B15928" stroke-width="1.35" fill="none"><line x1="467.10" y1="331.50" x2="472.10" y2="336.50"/><line x1="467.10" y1="336.50" x2="472.10" y2="331.50"/></g><g stroke="#B15928" stroke-width="1.35" fill="none"><line x1="548.35" y1="312.00" x2="553.35" y2="317.00"/><line x1="548.35" y1="317.00" x2="553.35" y2="312.00"/></g><g stroke="#B15928" stroke-width="1.35" fill="none"><line x1="629.60" y1="283.20" x2="634.60" y2="288.20"/><line x1="629.60" y1="288.20" x2="634.60" y2="283.20"/></g>
<line x1="680.3" y1="68.20" x2="701.3" y2="68.20" stroke="#A6CEE3" stroke-width="2.3"/>
<g stroke="#A6CEE3" stroke-width="1.8" fill="none"><circle cx="690.80" cy="68.20" r="3.20"/></g>
<text x="707.5" y="74.10" class="lg" textLength="25.01" lengthAdjust="spacingAndGlyphs">D11</text>
<line x1="680.3" y1="86.02" x2="701.3" y2="86.02" stroke="#1F78B4" stroke-width="2.3"/>
<g stroke="#1F78B4" stroke-width="1.8" fill="none"><polygon points="690.80,81.04 695.11,88.51 686.49,88.51"/></g>
<text x="707.5" y="91.86" class="lg" textLength="25.85" lengthAdjust="spacingAndGlyphs">D12</text>
<line x1="680.3" y1="103.84" x2="701.3" y2="103.84" stroke="#B2DF8A" stroke-width="2.3"/>
<g stroke="#B2DF8A" stroke-width="1.8" fill="none"><line x1="686.27" y1="103.84" x2="695.33" y2="103.84"/><line x1="690.80" y1="99.31" x2="690.80" y2="108.37"/></g>
<text x="707.5" y="109.62" class="lg" textLength="25.85" lengthAdjust="spacingAndGlyphs">D13</text>
<line x1="680.3" y1="121.66" x2="701.3" y2="121.66" stroke="#33A02C" stroke-width="2.3"/>
<g stroke="#33A02C" stroke-width="1.8" fill="none"><line x1="687.60" y1="118.46" x2="694.00" y2="124.86"/><line x1="687.60" y1="124.86" x2="694.00" y2="118.46"/></g>
<text x="707.5" y="127.38" class="lg" textLength="25.85" lengthAdjust="spacingAndGlyphs">D51</text>
<line x1="680.3" y1="139.48" x2="701.3" y2="139.48" stroke="#FB9A99" stroke-width="2.3"/>
<g stroke="#FB9A99" stroke-width="1.8" fill="none"><polygon points="686.27,139.48 690.80,134.95 695.33,139.48 690.80,144.01"/></g>
<text x="707.5" y="145.14" class="lg" textLength="25.85" lengthAdjust="spacingAndGlyphs">D52</text>
<line x1="680.3" y1="157.30" x2="701.3" y2="157.30" stroke="#E31A1C" stroke-width="2.3"/>
<g stroke="#E31A1C" stroke-width="1.8" fill="none"><polygon points="690.80,162.28 695.11,154.81 686.49,154.81"/></g>
<text x="707.5" y="162.90" class="lg" textLength="25.85" lengthAdjust="spacingAndGlyphs">D53</text>
<line x1="680.3" y1="175.12" x2="701.3" y2="175.12" stroke="#FDBF6F" stroke-width="2.3"/>
<g stroke="#FDBF6F" stroke-width="1.8" fill="none"><rect x="687.60" y="171.92" width="6.40" height="6.40"/><line x1="687.60" y1="171.92" x2="694.00" y2="178.32"/><line x1="687.60" y1="178.32" x2="694.00" y2="171.92"/></g>
<text x="707.5" y="180.66" class="lg" textLength="25.85" lengthAdjust="spacingAndGlyphs">D71</text>
<line x1="680.3" y1="192.94" x2="701.3" y2="192.94" stroke="#FF7F00" stroke-width="2.3"/>
<g stroke="#FF7F00" stroke-width="1.8" fill="none"><line x1="687.60" y1="189.74" x2="694.00" y2="196.14"/><line x1="687.60" y1="196.14" x2="694.00" y2="189.74"/><line x1="686.27" y1="192.94" x2="695.33" y2="192.94"/><line x1="690.80" y1="188.41" x2="690.80" y2="197.47"/></g>
<text x="707.5" y="198.42" class="lg" textLength="25.85" lengthAdjust="spacingAndGlyphs">D72</text>
<line x1="680.3" y1="210.76" x2="701.3" y2="210.76" stroke="#CAB2D6" stroke-width="2.3"/>
<g stroke="#CAB2D6" stroke-width="1.8" fill="none"><polygon points="686.27,210.76 690.80,206.23 695.33,210.76 690.80,215.29"/><line x1="686.27" y1="210.76" x2="695.33" y2="210.76"/><line x1="690.80" y1="206.23" x2="690.80" y2="215.29"/></g>
<text x="707.5" y="216.18" class="lg" textLength="25.85" lengthAdjust="spacingAndGlyphs">D73</text>
<line x1="680.3" y1="228.58" x2="701.3" y2="228.58" stroke="#6A3D9A" stroke-width="2.3"/>
<g stroke="#6A3D9A" stroke-width="1.8" fill="none"><circle cx="690.80" cy="228.58" r="3.20"/><line x1="687.60" y1="228.58" x2="694.00" y2="228.58"/><line x1="690.80" y1="225.38" x2="690.80" y2="231.78"/></g>
<text x="707.5" y="233.94" class="lg" textLength="25.85" lengthAdjust="spacingAndGlyphs">D91</text>
<line x1="680.3" y1="246.40" x2="701.3" y2="246.40" stroke="#FFFF99" stroke-width="2.3"/>
<g stroke="#FFFF99" stroke-width="1.8" fill="none"><circle cx="690.80" cy="246.40" r="3.20"/></g>
<text x="707.5" y="251.70" class="lg" textLength="25.85" lengthAdjust="spacingAndGlyphs">D92</text>
<line x1="680.3" y1="264.22" x2="701.3" y2="264.22" stroke="#B15928" stroke-width="2.3"/>
<g stroke="#B15928" stroke-width="1.8" fill="none"><polygon points="690.80,259.24 695.11,266.71 686.49,266.71"/></g>
<text x="707.5" y="269.46" class="lg" textLength="25.85" lengthAdjust="spacingAndGlyphs">D93</text>
<line x1="680.3" y1="282.04" x2="701.3" y2="282.04" stroke="#A6CEE3" stroke-width="2.3"/>
<g stroke="#A6CEE3" stroke-width="1.8" fill="none"><line x1="686.27" y1="282.04" x2="695.33" y2="282.04"/><line x1="690.80" y1="277.51" x2="690.80" y2="286.57"/></g>
<text x="707.5" y="287.22" class="lg" textLength="25.85" lengthAdjust="spacingAndGlyphs">H11</text>
<line x1="680.3" y1="299.86" x2="701.3" y2="299.86" stroke="#1F78B4" stroke-width="2.3"/>
<g stroke="#1F78B4" stroke-width="1.8" fill="none"><line x1="687.60" y1="296.66" x2="694.00" y2="303.06"/><line x1="687.60" y1="303.06" x2="694.00" y2="296.66"/></g>
<text x="707.5" y="304.98" class="lg" textLength="26.67" lengthAdjust="spacingAndGlyphs">H12</text>
<line x1="680.3" y1="317.68" x2="701.3" y2="317.68" stroke="#B2DF8A" stroke-width="2.3"/>
<g stroke="#B2DF8A" stroke-width="1.8" fill="none"><polygon points="686.27,317.68 690.80,313.15 695.33,317.68 690.80,322.21"/></g>
<text x="707.5" y="322.74" class="lg" textLength="26.67" lengthAdjust="spacingAndGlyphs">H13</text>
<line x1="680.3" y1="335.50" x2="701.3" y2="335.50" stroke="#33A02C" stroke-width="2.3"/>
<g stroke="#33A02C" stroke-width="1.8" fill="none"><polygon points="690.80,340.48 695.11,333.01 686.49,333.01"/></g>
<text x="707.5" y="340.50" class="lg" textLength="26.67" lengthAdjust="spacingAndGlyphs">H51</text>
<line x1="680.3" y1="353.32" x2="701.3" y2="353.32" stroke="#FB9A99" stroke-width="2.3"/>
<g stroke="#FB9A99" stroke-width="1.8" fill="none"><rect x="687.60" y="350.12" width="6.40" height="6.40"/><line x1="687.60" y1="350.12" x2="694.00" y2="356.52"/><line x1="687.60" y1="356.52" x2="694.00" y2="350.12"/></g>
<text x="707.5" y="358.26" class="lg" textLength="26.67" lengthAdjust="spacingAndGlyphs">H52</text>
<line x1="680.3" y1="371.14" x2="701.3" y2="371.14" stroke="#E31A1C" stroke-width="2.3"/>
<g stroke="#E31A1C" stroke-width="1.8" fill="none"><line x1="687.60" y1="367.94" x2="694.00" y2="374.34"/><line x1="687.60" y1="374.34" x2="694.00" y2="367.94"/><line x1="686.27" y1="371.14" x2="695.33" y2="371.14"/><line x1="690.80" y1="366.61" x2="690.80" y2="375.67"/></g>
<text x="707.5" y="376.02" class="lg" textLength="26.67" lengthAdjust="spacingAndGlyphs">H53</text>
<line x1="680.3" y1="388.96" x2="701.3" y2="388.96" stroke="#FDBF6F" stroke-width="2.3"/>
<g stroke="#FDBF6F" stroke-width="1.8" fill="none"><polygon points="686.27,388.96 690.80,384.43 695.33,388.96 690.80,393.49"/><line x1="686.27" y1="388.96" x2="695.33" y2="388.96"/><line x1="690.80" y1="384.43" x2="690.80" y2="393.49"/></g>
<text x="707.5" y="393.78" class="lg" textLength="26.67" lengthAdjust="spacingAndGlyphs">H71</text>
<line x1="680.3" y1="406.78" x2="701.3" y2="406.78" stroke="#FF7F00" stroke-width="2.3"/>
<g stroke="#FF7F00" stroke-width="1.8" fill="none"><circle cx="690.80" cy="406.78" r="3.20"/><line x1="687.60" y1="406.78" x2="694.00" y2="406.78"/><line x1="690.80" y1="403.58" x2="690.80" y2="409.98"/></g>
<text x="707.5" y="411.54" class="lg" textLength="26.67" lengthAdjust="spacingAndGlyphs">H72</text>
<line x1="680.3" y1="424.60" x2="701.3" y2="424.60" stroke="#CAB2D6" stroke-width="2.3"/>
<g stroke="#CAB2D6" stroke-width="1.8" fill="none"><circle cx="690.80" cy="424.60" r="3.20"/></g>
<text x="707.5" y="429.30" class="lg" textLength="26.67" lengthAdjust="spacingAndGlyphs">H73</text>
<line x1="680.3" y1="442.42" x2="701.3" y2="442.42" stroke="#6A3D9A" stroke-width="2.3"/>
<g stroke="#6A3D9A" stroke-width="1.8" fill="none"><polygon points="690.80,437.44 695.11,444.91 686.49,444.91"/></g>
<text x="707.5" y="447.06" class="lg" textLength="26.67" lengthAdjust="spacingAndGlyphs">H91</text>
<line x1="680.3" y1="460.24" x2="701.3" y2="460.24" stroke="#FFFF99" stroke-width="2.3"/>
<g stroke="#FFFF99" stroke-width="1.8" fill="none"><line x1="686.27" y1="460.24" x2="695.33" y2="460.24"/><line x1="690.80" y1="455.71" x2="690.80" y2="464.77"/></g>
<text x="707.5" y="464.82" class="lg" textLength="26.67" lengthAdjust="spacingAndGlyphs">H92</text>
<line x1="680.3" y1="478.06" x2="701.3" y2="478.06" stroke="#B15928" stroke-width="2.3"/>
<g stroke="#B15928" stroke-width="1.8" fill="none"><line x1="687.60" y1="474.86" x2="694.00" y2="481.26"/><line x1="687.60" y1="481.26" x2="694.00" y2="474.86"/></g>
<text x="707.5" y="482.58" class="lg" textLength="26.67" lengthAdjust="spacingAndGlyphs">H93</text>
<text x="793" y="26" class="pl">B</text>
<rect x="883.3" y="36.3" width="640.9000000000001" height="578.0" fill="none" stroke="#444" stroke-width="1.9" stroke-linejoin="round"/>
<line x1="876.8" y1="605.70" x2="883.3" y2="605.70" class="tk"/>
<text transform="translate(869.6 606.40) rotate(-90)" class="tl" text-anchor="middle">0</text>
<line x1="876.8" y1="525.04" x2="883.3" y2="525.04" class="tk"/>
<text transform="translate(871 524.80) rotate(-90)" class="tl" text-anchor="middle">10</text>
<line x1="876.8" y1="444.38" x2="883.3" y2="444.38" class="tk"/>
<text transform="translate(869.9 445.40) rotate(-90)" class="tl" text-anchor="middle">20</text>
<line x1="876.8" y1="363.72" x2="883.3" y2="363.72" class="tk"/>
<text transform="translate(871 363.80) rotate(-90)" class="tl" text-anchor="middle">30</text>
<line x1="876.8" y1="283.06" x2="883.3" y2="283.06" class="tk"/>
<text transform="translate(871.3 284.00) rotate(-90)" class="tl" text-anchor="middle">40</text>
<line x1="876.8" y1="202.40" x2="883.3" y2="202.40" class="tk"/>
<text transform="translate(873.2 202.20) rotate(-90)" class="tl" text-anchor="middle">50</text>
<line x1="876.8" y1="121.74" x2="883.3" y2="121.74" class="tk"/>
<text transform="translate(874.1 122.00) rotate(-90)" class="tl" text-anchor="middle">60</text>
<line x1="876.8" y1="41.08" x2="883.3" y2="41.08" class="tk"/>
<text transform="translate(873 41.70) rotate(-90)" class="tl" text-anchor="middle">70</text>
<line x1="907.10" y1="614" x2="907.10" y2="620.5" class="tk"/>
<text x="906.90" y="652.3" class="tl" text-anchor="middle">0</text>
<line x1="1001.38" y1="614" x2="1001.38" y2="620.5" class="tk"/>
<text x="1005.50" y="652.3" class="tl" text-anchor="middle">200</text>
<line x1="1095.66" y1="614" x2="1095.66" y2="620.5" class="tk"/>
<text x="1103.90" y="652.3" class="tl" text-anchor="middle">400</text>
<line x1="1189.94" y1="614" x2="1189.94" y2="620.5" class="tk"/>
<text x="1196.40" y="652.3" class="tl" text-anchor="middle">600</text>
<line x1="1284.22" y1="614" x2="1284.22" y2="620.5" class="tk"/>
<text x="1288.30" y="652.3" class="tl" text-anchor="middle">800</text>
<line x1="1378.50" y1="614" x2="1378.50" y2="620.5" class="tk"/>
<text x="1381.00" y="652.3" class="tl" text-anchor="middle">1000</text>
<line x1="1472.78" y1="614" x2="1472.78" y2="620.5" class="tk"/>
<text x="1479.70" y="652.3" class="tl" text-anchor="middle">1200</text>
<text x="1203.6" y="693.7" class="ax" text-anchor="middle" textLength="225.7" lengthAdjust="spacingAndGlyphs">Sequences Number</text>
<text transform="translate(829.2 316.3) rotate(-90)" class="ax" text-anchor="middle" textLength="167.5" lengthAdjust="spacingAndGlyphs">OTU Number</text>
<path d="M914.91 567.28L989.22 472.72M998.21 465.16L1069.38 426.84M1080.11 421.48L1150.94 388.72M1162.02 384.11L1232.49 357.99M1243.66 353.60L1314.31 324.30M1325.48 319.94L1395.95 294.16" stroke="#A6CEE3" stroke-width="1.4" fill="none"/><g stroke="#A6CEE3" stroke-width="1.35" fill="none"><circle cx="911.20" cy="572.00" r="2.50"/></g><g stroke="#A6CEE3" stroke-width="1.35" fill="none"><circle cx="992.93" cy="468.00" r="2.50"/></g><g stroke="#A6CEE3" stroke-width="1.35" fill="none"><circle cx="1074.66" cy="424.00" r="2.50"/></g><g stroke="#A6CEE3" stroke-width="1.35" fill="none"><circle cx="1156.39" cy="386.20" r="2.50"/></g><g stroke="#A6CEE3" stroke-width="1.35" fill="none"><circle cx="1238.12" cy="355.90" r="2.50"/></g><g stroke="#A6CEE3" stroke-width="1.35" fill="none"><circle cx="1319.85" cy="322.00" r="2.50"/></g><g stroke="#A6CEE3" stroke-width="1.35" fill="none"><circle cx="1401.58" cy="292.10" r="2.50"/></g>
<path d="M914.96 572.32L989.17 480.08M998.27 472.66L1069.32 436.14M1080.38 431.57L1150.67 409.13M1162.04 405.29L1232.47 380.31M1243.99 377.04L1313.98 362.06M1325.51 358.81L1395.92 334.09" stroke="#1F78B4" stroke-width="1.4" fill="none"/><g stroke="#1F78B4" stroke-width="1.35" fill="none"><polygon points="911.20,573.11 914.57,578.94 907.83,578.94"/></g><g stroke="#1F78B4" stroke-width="1.35" fill="none"><polygon points="992.93,471.51 996.30,477.34 989.56,477.34"/></g><g stroke="#1F78B4" stroke-width="1.35" fill="none"><polygon points="1074.66,429.51 1078.03,435.34 1071.29,435.34"/></g><g stroke="#1F78B4" stroke-width="1.35" fill="none"><polygon points="1156.39,403.41 1159.76,409.24 1153.02,409.24"/></g><g stroke="#1F78B4" stroke-width="1.35" fill="none"><polygon points="1238.12,374.41 1241.49,380.24 1234.75,380.24"/></g><g stroke="#1F78B4" stroke-width="1.35" fill="none"><polygon points="1319.85,356.91 1323.22,362.74 1316.48,362.74"/></g><g stroke="#1F78B4" stroke-width="1.35" fill="none"><polygon points="1401.58,328.21 1404.95,334.04 1398.21,334.04"/></g>
<path d="M915.87 585.23L988.26 526.77M998.62 521.09L1068.97 497.51M1080.54 494.39L1150.51 479.91M1162.28 477.58L1232.23 464.22M1244.02 462.01L1313.95 449.09M1325.79 447.16L1395.64 437.34" stroke="#B2DF8A" stroke-width="1.4" fill="none"/><g stroke="#B2DF8A" stroke-width="1.35" fill="none"><line x1="907.66" y1="589.00" x2="914.74" y2="589.00"/><line x1="911.20" y1="585.46" x2="911.20" y2="592.54"/></g><g stroke="#B2DF8A" stroke-width="1.35" fill="none"><line x1="989.39" y1="523.00" x2="996.47" y2="523.00"/><line x1="992.93" y1="519.46" x2="992.93" y2="526.54"/></g><g stroke="#B2DF8A" stroke-width="1.35" fill="none"><line x1="1071.12" y1="495.60" x2="1078.20" y2="495.60"/><line x1="1074.66" y1="492.06" x2="1074.66" y2="499.14"/></g><g stroke="#B2DF8A" stroke-width="1.35" fill="none"><line x1="1152.85" y1="478.70" x2="1159.93" y2="478.70"/><line x1="1156.39" y1="475.16" x2="1156.39" y2="482.24"/></g><g stroke="#B2DF8A" stroke-width="1.35" fill="none"><line x1="1234.58" y1="463.10" x2="1241.66" y2="463.10"/><line x1="1238.12" y1="459.56" x2="1238.12" y2="466.64"/></g><g stroke="#B2DF8A" stroke-width="1.35" fill="none"><line x1="1316.31" y1="448.00" x2="1323.39" y2="448.00"/><line x1="1319.85" y1="444.46" x2="1319.85" y2="451.54"/></g><g stroke="#B2DF8A" stroke-width="1.35" fill="none"><line x1="1398.04" y1="436.50" x2="1405.12" y2="436.50"/><line x1="1401.58" y1="432.96" x2="1401.58" y2="440.04"/></g>
<path d="M914.72 575.14L989.41 471.86M998.48 464.72L1069.11 435.68M1080.48 431.94L1150.57 414.36M1162.24 411.55L1232.27 395.35M1244.08 393.31L1313.89 385.19M1325.78 383.58L1395.65 372.72" stroke="#33A02C" stroke-width="1.4" fill="none"/><g stroke="#33A02C" stroke-width="1.35" fill="none"><line x1="908.70" y1="577.50" x2="913.70" y2="582.50"/><line x1="908.70" y1="582.50" x2="913.70" y2="577.50"/></g><g stroke="#33A02C" stroke-width="1.35" fill="none"><line x1="990.43" y1="464.50" x2="995.43" y2="469.50"/><line x1="990.43" y1="469.50" x2="995.43" y2="464.50"/></g><g stroke="#33A02C" stroke-width="1.35" fill="none"><line x1="1072.16" y1="430.90" x2="1077.16" y2="435.90"/><line x1="1072.16" y1="435.90" x2="1077.16" y2="430.90"/></g><g stroke="#33A02C" stroke-width="1.35" fill="none"><line x1="1153.89" y1="410.40" x2="1158.89" y2="415.40"/><line x1="1153.89" y1="415.40" x2="1158.89" y2="410.40"/></g><g stroke="#33A02C" stroke-width="1.35" fill="none"><line x1="1235.62" y1="391.50" x2="1240.62" y2="396.50"/><line x1="1235.62" y1="396.50" x2="1240.62" y2="391.50"/></g><g stroke="#33A02C" stroke-width="1.35" fill="none"><line x1="1317.35" y1="382.00" x2="1322.35" y2="387.00"/><line x1="1317.35" y1="387.00" x2="1322.35" y2="382.00"/></g><g stroke="#33A02C" stroke-width="1.35" fill="none"><line x1="1399.08" y1="369.30" x2="1404.08" y2="374.30"/><line x1="1399.08" y1="374.30" x2="1404.08" y2="369.30"/></g>
<path d="M914.69 576.12L989.44 471.38M998.75 465.04L1068.84 447.46M1080.58 445.00L1150.47 433.20M1162.33 431.39L1232.18 421.81M1243.83 419.17L1314.14 396.63M1325.76 393.78L1395.67 381.72" stroke="#FB9A99" stroke-width="1.4" fill="none"/><g stroke="#FB9A99" stroke-width="1.35" fill="none"><polygon points="907.66,581.00 911.20,577.46 914.74,581.00 911.20,584.54"/></g><g stroke="#FB9A99" stroke-width="1.35" fill="none"><polygon points="989.39,466.50 992.93,462.96 996.47,466.50 992.93,470.04"/></g><g stroke="#FB9A99" stroke-width="1.35" fill="none"><polygon points="1071.12,446.00 1074.66,442.46 1078.20,446.00 1074.66,449.54"/></g><g stroke="#FB9A99" stroke-width="1.35" fill="none"><polygon points="1152.85,432.20 1156.39,428.66 1159.93,432.20 1156.39,435.74"/></g><g stroke="#FB9A99" stroke-width="1.35" fill="none"><polygon points="1234.58,421.00 1238.12,417.46 1241.66,421.00 1238.12,424.54"/></g><g stroke="#FB9A99" stroke-width="1.35" fill="none"><polygon points="1316.31,394.80 1319.85,391.26 1323.39,394.80 1319.85,398.34"/></g><g stroke="#FB9A99" stroke-width="1.35" fill="none"><polygon points="1398.04,380.70 1401.58,377.16 1405.12,380.70 1401.58,384.24"/></g>
<path d="M913.50 546.46L990.63 360.64M997.28 350.97L1070.31 281.53M1078.95 273.21L1152.10 201.69M1161.40 194.19L1233.11 146.81M1243.19 140.28L1314.78 94.82M1325.41 89.34L1396.02 60.56" stroke="#E31A1C" stroke-width="1.4" fill="none"/><g stroke="#E31A1C" stroke-width="1.35" fill="none"><polygon points="911.20,555.89 914.57,550.06 907.83,550.06"/></g><g stroke="#E31A1C" stroke-width="1.35" fill="none"><polygon points="992.93,358.99 996.30,353.16 989.56,353.16"/></g><g stroke="#E31A1C" stroke-width="1.35" fill="none"><polygon points="1074.66,281.29 1078.03,275.46 1071.29,275.46"/></g><g stroke="#E31A1C" stroke-width="1.35" fill="none"><polygon points="1156.39,201.39 1159.76,195.56 1153.02,195.56"/></g><g stroke="#E31A1C" stroke-width="1.35" fill="none"><polygon points="1238.12,147.39 1241.49,141.56 1234.75,141.56"/></g><g stroke="#E31A1C" stroke-width="1.35" fill="none"><polygon points="1319.85,95.49 1323.22,89.66 1316.48,89.66"/></g><g stroke="#E31A1C" stroke-width="1.35" fill="none"><polygon points="1401.58,62.19 1404.95,56.36 1398.21,56.36"/></g>
<path d="M914.82 569.22L989.31 470.78M998.40 463.53L1069.19 431.57M1080.42 427.41L1150.63 406.79M1161.96 402.87L1232.55 374.63M1243.95 370.99L1314.02 354.01M1325.67 351.14L1395.76 333.56" stroke="#FDBF6F" stroke-width="1.4" fill="none"/><g stroke="#FDBF6F" stroke-width="1.35" fill="none"><rect x="908.70" y="571.50" width="5.00" height="5.00"/><line x1="908.70" y1="571.50" x2="913.70" y2="576.50"/><line x1="908.70" y1="576.50" x2="913.70" y2="571.50"/></g><g stroke="#FDBF6F" stroke-width="1.35" fill="none"><rect x="990.43" y="463.50" width="5.00" height="5.00"/><line x1="990.43" y1="463.50" x2="995.43" y2="468.50"/><line x1="990.43" y1="468.50" x2="995.43" y2="463.50"/></g><g stroke="#FDBF6F" stroke-width="1.35" fill="none"><rect x="1072.16" y="426.60" width="5.00" height="5.00"/><line x1="1072.16" y1="426.60" x2="1077.16" y2="431.60"/><line x1="1072.16" y1="431.60" x2="1077.16" y2="426.60"/></g><g stroke="#FDBF6F" stroke-width="1.35" fill="none"><rect x="1153.89" y="402.60" width="5.00" height="5.00"/><line x1="1153.89" y1="402.60" x2="1158.89" y2="407.60"/><line x1="1153.89" y1="407.60" x2="1158.89" y2="402.60"/></g><g stroke="#FDBF6F" stroke-width="1.35" fill="none"><rect x="1235.62" y="369.90" width="5.00" height="5.00"/><line x1="1235.62" y1="369.90" x2="1240.62" y2="374.90"/><line x1="1235.62" y1="374.90" x2="1240.62" y2="369.90"/></g><g stroke="#FDBF6F" stroke-width="1.35" fill="none"><rect x="1317.35" y="350.10" width="5.00" height="5.00"/><line x1="1317.35" y1="350.10" x2="1322.35" y2="355.10"/><line x1="1317.35" y1="355.10" x2="1322.35" y2="350.10"/></g><g stroke="#FDBF6F" stroke-width="1.35" fill="none"><rect x="1399.08" y="329.60" width="5.00" height="5.00"/><line x1="1399.08" y1="329.60" x2="1404.08" y2="334.60"/><line x1="1399.08" y1="334.60" x2="1404.08" y2="329.60"/></g>
<path d="M915.05 579.40L989.08 491.10M998.58 484.48L1069.01 459.32M1080.59 456.41L1150.46 445.89M1162.12 443.21L1232.39 421.29M1244.09 418.93L1313.88 412.27M1325.83 411.17L1395.60 404.93" stroke="#FF7F00" stroke-width="1.4" fill="none"/><g stroke="#FF7F00" stroke-width="1.35" fill="none"><line x1="908.70" y1="581.50" x2="913.70" y2="586.50"/><line x1="908.70" y1="586.50" x2="913.70" y2="581.50"/><line x1="907.66" y1="584.00" x2="914.74" y2="584.00"/><line x1="911.20" y1="580.46" x2="911.20" y2="587.54"/></g><g stroke="#FF7F00" stroke-width="1.35" fill="none"><line x1="990.43" y1="484.00" x2="995.43" y2="489.00"/><line x1="990.43" y1="489.00" x2="995.43" y2="484.00"/><line x1="989.39" y1="486.50" x2="996.47" y2="486.50"/><line x1="992.93" y1="482.96" x2="992.93" y2="490.04"/></g><g stroke="#FF7F00" stroke-width="1.35" fill="none"><line x1="1072.16" y1="454.80" x2="1077.16" y2="459.80"/><line x1="1072.16" y1="459.80" x2="1077.16" y2="454.80"/><line x1="1071.12" y1="457.30" x2="1078.20" y2="457.30"/><line x1="1074.66" y1="453.76" x2="1074.66" y2="460.84"/></g><g stroke="#FF7F00" stroke-width="1.35" fill="none"><line x1="1153.89" y1="442.50" x2="1158.89" y2="447.50"/><line x1="1153.89" y1="447.50" x2="1158.89" y2="442.50"/><line x1="1152.85" y1="445.00" x2="1159.93" y2="445.00"/><line x1="1156.39" y1="441.46" x2="1156.39" y2="448.54"/></g><g stroke="#FF7F00" stroke-width="1.35" fill="none"><line x1="1235.62" y1="417.00" x2="1240.62" y2="422.00"/><line x1="1235.62" y1="422.00" x2="1240.62" y2="417.00"/><line x1="1234.58" y1="419.50" x2="1241.66" y2="419.50"/><line x1="1238.12" y1="415.96" x2="1238.12" y2="423.04"/></g><g stroke="#FF7F00" stroke-width="1.35" fill="none"><line x1="1317.35" y1="409.20" x2="1322.35" y2="414.20"/><line x1="1317.35" y1="414.20" x2="1322.35" y2="409.20"/><line x1="1316.31" y1="411.70" x2="1323.39" y2="411.70"/><line x1="1319.85" y1="408.16" x2="1319.85" y2="415.24"/></g><g stroke="#FF7F00" stroke-width="1.35" fill="none"><line x1="1399.08" y1="401.90" x2="1404.08" y2="406.90"/><line x1="1399.08" y1="406.90" x2="1404.08" y2="401.90"/><line x1="1398.04" y1="404.40" x2="1405.12" y2="404.40"/><line x1="1401.58" y1="400.86" x2="1401.58" y2="407.94"/></g>
<path d="M915.99 566.39L988.14 512.01M998.48 506.12L1069.11 477.18M1080.66 474.91L1150.39 475.09M1162.11 473.29L1232.40 451.01M1244.09 448.60L1313.88 441.60" stroke="#CAB2D6" stroke-width="1.4" fill="none"/><g stroke="#CAB2D6" stroke-width="1.35" fill="none"><polygon points="907.66,570.00 911.20,566.46 914.74,570.00 911.20,573.54"/><line x1="907.66" y1="570.00" x2="914.74" y2="570.00"/><line x1="911.20" y1="566.46" x2="911.20" y2="573.54"/></g><g stroke="#CAB2D6" stroke-width="1.35" fill="none"><polygon points="989.39,508.40 992.93,504.86 996.47,508.40 992.93,511.94"/><line x1="989.39" y1="508.40" x2="996.47" y2="508.40"/><line x1="992.93" y1="504.86" x2="992.93" y2="511.94"/></g><g stroke="#CAB2D6" stroke-width="1.35" fill="none"><polygon points="1071.12,474.90 1074.66,471.36 1078.20,474.90 1074.66,478.44"/><line x1="1071.12" y1="474.90" x2="1078.20" y2="474.90"/><line x1="1074.66" y1="471.36" x2="1074.66" y2="478.44"/></g><g stroke="#CAB2D6" stroke-width="1.35" fill="none"><polygon points="1152.85,475.10 1156.39,471.56 1159.93,475.10 1156.39,478.64"/><line x1="1152.85" y1="475.10" x2="1159.93" y2="475.10"/><line x1="1156.39" y1="471.56" x2="1156.39" y2="478.64"/></g><g stroke="#CAB2D6" stroke-width="1.35" fill="none"><polygon points="1234.58,449.20 1238.12,445.66 1241.66,449.20 1238.12,452.74"/><line x1="1234.58" y1="449.20" x2="1241.66" y2="449.20"/><line x1="1238.12" y1="445.66" x2="1238.12" y2="452.74"/></g><g stroke="#CAB2D6" stroke-width="1.35" fill="none"><polygon points="1316.31,441.00 1319.85,437.46 1323.39,441.00 1319.85,444.54"/><line x1="1316.31" y1="441.00" x2="1323.39" y2="441.00"/><line x1="1319.85" y1="437.46" x2="1319.85" y2="444.54"/></g>
<path d="M914.96 561.32L989.17 469.08M998.30 461.71L1069.29 426.19M1080.42 421.83L1150.63 401.47M1162.26 398.56L1232.25 383.84M1244.09 382.04L1313.88 375.56M1325.80 374.20L1395.63 364.80" stroke="#6A3D9A" stroke-width="1.4" fill="none"/><g stroke="#6A3D9A" stroke-width="1.35" fill="none"><circle cx="911.20" cy="566.00" r="2.50"/><line x1="908.70" y1="566.00" x2="913.70" y2="566.00"/><line x1="911.20" y1="563.50" x2="911.20" y2="568.50"/></g><g stroke="#6A3D9A" stroke-width="1.35" fill="none"><circle cx="992.93" cy="464.40" r="2.50"/><line x1="990.43" y1="464.40" x2="995.43" y2="464.40"/><line x1="992.93" y1="461.90" x2="992.93" y2="466.90"/></g><g stroke="#6A3D9A" stroke-width="1.35" fill="none"><circle cx="1074.66" cy="423.50" r="2.50"/><line x1="1072.16" y1="423.50" x2="1077.16" y2="423.50"/><line x1="1074.66" y1="421.00" x2="1074.66" y2="426.00"/></g><g stroke="#6A3D9A" stroke-width="1.35" fill="none"><circle cx="1156.39" cy="399.80" r="2.50"/><line x1="1153.89" y1="399.80" x2="1158.89" y2="399.80"/><line x1="1156.39" y1="397.30" x2="1156.39" y2="402.30"/></g><g stroke="#6A3D9A" stroke-width="1.35" fill="none"><circle cx="1238.12" cy="382.60" r="2.50"/><line x1="1235.62" y1="382.60" x2="1240.62" y2="382.60"/><line x1="1238.12" y1="380.10" x2="1238.12" y2="385.10"/></g><g stroke="#6A3D9A" stroke-width="1.35" fill="none"><circle cx="1319.85" cy="375.00" r="2.50"/><line x1="1317.35" y1="375.00" x2="1322.35" y2="375.00"/><line x1="1319.85" y1="372.50" x2="1319.85" y2="377.50"/></g><g stroke="#6A3D9A" stroke-width="1.35" fill="none"><circle cx="1401.58" cy="364.00" r="2.50"/><line x1="1399.08" y1="364.00" x2="1404.08" y2="364.00"/><line x1="1401.58" y1="361.50" x2="1401.58" y2="366.50"/></g>
<path d="M916.37 564.96L987.76 523.04M998.27 517.26L1069.32 480.74M1080.34 476.07L1150.71 452.23M1162.27 449.11L1232.24 434.99M1244.11 433.51L1313.86 430.09M1325.81 429.12L1395.62 421.18" stroke="#FFFF99" stroke-width="1.4" fill="none"/><g stroke="#FFFF99" stroke-width="1.35" fill="none"><circle cx="911.20" cy="568.00" r="2.50"/></g><g stroke="#FFFF99" stroke-width="1.35" fill="none"><circle cx="992.93" cy="520.00" r="2.50"/></g><g stroke="#FFFF99" stroke-width="1.35" fill="none"><circle cx="1074.66" cy="478.00" r="2.50"/></g><g stroke="#FFFF99" stroke-width="1.35" fill="none"><circle cx="1156.39" cy="450.30" r="2.50"/></g><g stroke="#FFFF99" stroke-width="1.35" fill="none"><circle cx="1238.12" cy="433.80" r="2.50"/></g><g stroke="#FFFF99" stroke-width="1.35" fill="none"><circle cx="1319.85" cy="429.80" r="2.50"/></g><g stroke="#FFFF99" stroke-width="1.35" fill="none"><circle cx="1401.58" cy="420.50" r="2.50"/></g>
<path d="M915.21 551.54L988.92 469.46M998.76 463.59L1068.83 446.71M1080.46 443.77L1150.59 425.33M1162.28 422.66L1232.23 409.14M1243.89 406.34L1314.08 386.16M1325.78 383.58L1395.65 372.72" stroke="#B15928" stroke-width="1.4" fill="none"/><g stroke="#B15928" stroke-width="1.35" fill="none"><polygon points="911.20,552.11 914.57,557.94 907.83,557.94"/></g><g stroke="#B15928" stroke-width="1.35" fill="none"><polygon points="992.93,461.11 996.30,466.94 989.56,466.94"/></g><g stroke="#B15928" stroke-width="1.35" fill="none"><polygon points="1074.66,441.41 1078.03,447.24 1071.29,447.24"/></g><g stroke="#B15928" stroke-width="1.35" fill="none"><polygon points="1156.39,419.91 1159.76,425.74 1153.02,425.74"/></g><g stroke="#B15928" stroke-width="1.35" fill="none"><polygon points="1238.12,404.11 1241.49,409.94 1234.75,409.94"/></g><g stroke="#B15928" stroke-width="1.35" fill="none"><polygon points="1319.85,380.61 1323.22,386.44 1316.48,386.44"/></g><g stroke="#B15928" stroke-width="1.35" fill="none"><polygon points="1401.58,367.91 1404.95,373.74 1398.21,373.74"/></g>
<path d="M916.62 589.43L987.51 555.77M998.64 551.34L1068.95 528.46M1080.61 525.85L1150.44 517.05M1162.36 515.69L1232.15 508.51M1244.06 507.02L1313.91 496.68M1325.85 495.60L1395.58 493.30" stroke="#A6CEE3" stroke-width="1.4" fill="none"/><g stroke="#A6CEE3" stroke-width="1.35" fill="none"><line x1="907.66" y1="592.00" x2="914.74" y2="592.00"/><line x1="911.20" y1="588.46" x2="911.20" y2="595.54"/></g><g stroke="#A6CEE3" stroke-width="1.35" fill="none"><line x1="989.39" y1="553.20" x2="996.47" y2="553.20"/><line x1="992.93" y1="549.66" x2="992.93" y2="556.74"/></g><g stroke="#A6CEE3" stroke-width="1.35" fill="none"><line x1="1071.12" y1="526.60" x2="1078.20" y2="526.60"/><line x1="1074.66" y1="523.06" x2="1074.66" y2="530.14"/></g><g stroke="#A6CEE3" stroke-width="1.35" fill="none"><line x1="1152.85" y1="516.30" x2="1159.93" y2="516.30"/><line x1="1156.39" y1="512.76" x2="1156.39" y2="519.84"/></g><g stroke="#A6CEE3" stroke-width="1.35" fill="none"><line x1="1234.58" y1="507.90" x2="1241.66" y2="507.90"/><line x1="1238.12" y1="504.36" x2="1238.12" y2="511.44"/></g><g stroke="#A6CEE3" stroke-width="1.35" fill="none"><line x1="1316.31" y1="495.80" x2="1323.39" y2="495.80"/><line x1="1319.85" y1="492.26" x2="1319.85" y2="499.34"/></g><g stroke="#A6CEE3" stroke-width="1.35" fill="none"><line x1="1398.04" y1="493.10" x2="1405.12" y2="493.10"/><line x1="1401.58" y1="489.56" x2="1401.58" y2="496.64"/></g>
<path d="M914.96 578.32L989.17 485.98M998.57 479.26L1069.02 453.74M1080.17 449.32L1150.88 418.78M1162.19 414.85L1232.32 396.15M1244.02 393.50L1313.95 380.40M1325.75 378.23L1395.68 365.57" stroke="#1F78B4" stroke-width="1.4" fill="none"/><g stroke="#1F78B4" stroke-width="1.35" fill="none"><line x1="908.70" y1="580.50" x2="913.70" y2="585.50"/><line x1="908.70" y1="585.50" x2="913.70" y2="580.50"/></g><g stroke="#1F78B4" stroke-width="1.35" fill="none"><line x1="990.43" y1="478.80" x2="995.43" y2="483.80"/><line x1="990.43" y1="483.80" x2="995.43" y2="478.80"/></g><g stroke="#1F78B4" stroke-width="1.35" fill="none"><line x1="1072.16" y1="449.20" x2="1077.16" y2="454.20"/><line x1="1072.16" y1="454.20" x2="1077.16" y2="449.20"/></g><g stroke="#1F78B4" stroke-width="1.35" fill="none"><line x1="1153.89" y1="413.90" x2="1158.89" y2="418.90"/><line x1="1153.89" y1="418.90" x2="1158.89" y2="413.90"/></g><g stroke="#1F78B4" stroke-width="1.35" fill="none"><line x1="1235.62" y1="392.10" x2="1240.62" y2="397.10"/><line x1="1235.62" y1="397.10" x2="1240.62" y2="392.10"/></g><g stroke="#1F78B4" stroke-width="1.35" fill="none"><line x1="1317.35" y1="376.80" x2="1322.35" y2="381.80"/><line x1="1317.35" y1="381.80" x2="1322.35" y2="376.80"/></g><g stroke="#1F78B4" stroke-width="1.35" fill="none"><line x1="1399.08" y1="362.00" x2="1404.08" y2="367.00"/><line x1="1399.08" y1="367.00" x2="1404.08" y2="362.00"/></g>
<path d="M916.58 588.34L987.55 553.26M998.17 547.68L1069.42 507.92M1080.53 503.76L1150.52 489.04M1162.38 487.48L1232.13 483.82M1244.08 482.81L1313.89 474.79M1325.77 473.12L1395.66 461.58" stroke="#B2DF8A" stroke-width="1.4" fill="none"/><g stroke="#B2DF8A" stroke-width="1.35" fill="none"><polygon points="907.66,591.00 911.20,587.46 914.74,591.00 911.20,594.54"/></g><g stroke="#B2DF8A" stroke-width="1.35" fill="none"><polygon points="989.39,550.60 992.93,547.06 996.47,550.60 992.93,554.14"/></g><g stroke="#B2DF8A" stroke-width="1.35" fill="none"><polygon points="1071.12,505.00 1074.66,501.46 1078.20,505.00 1074.66,508.54"/></g><g stroke="#B2DF8A" stroke-width="1.35" fill="none"><polygon points="1152.85,487.80 1156.39,484.26 1159.93,487.80 1156.39,491.34"/></g><g stroke="#B2DF8A" stroke-width="1.35" fill="none"><polygon points="1234.58,483.50 1238.12,479.96 1241.66,483.50 1238.12,487.04"/></g><g stroke="#B2DF8A" stroke-width="1.35" fill="none"><polygon points="1316.31,474.10 1319.85,470.56 1323.39,474.10 1319.85,477.64"/></g><g stroke="#B2DF8A" stroke-width="1.35" fill="none"><polygon points="1398.04,460.60 1401.58,457.06 1405.12,460.60 1401.58,464.14"/></g>
<path d="M913.37 569.41L990.76 369.89M997.04 359.93L1070.55 281.77M1079.68 274.11L1151.37 227.19M1161.72 221.15L1232.79 184.55M1243.41 178.96L1314.56 140.74M1325.25 135.29L1396.18 101.01" stroke="#33A02C" stroke-width="1.4" fill="none"/><g stroke="#33A02C" stroke-width="1.35" fill="none"><polygon points="911.20,578.89 914.57,573.06 907.83,573.06"/></g><g stroke="#33A02C" stroke-width="1.35" fill="none"><polygon points="992.93,368.19 996.30,362.36 989.56,362.36"/></g><g stroke="#33A02C" stroke-width="1.35" fill="none"><polygon points="1074.66,281.29 1078.03,275.46 1071.29,275.46"/></g><g stroke="#33A02C" stroke-width="1.35" fill="none"><polygon points="1156.39,227.79 1159.76,221.96 1153.02,221.96"/></g><g stroke="#33A02C" stroke-width="1.35" fill="none"><polygon points="1238.12,185.69 1241.49,179.86 1234.75,179.86"/></g><g stroke="#33A02C" stroke-width="1.35" fill="none"><polygon points="1319.85,141.79 1323.22,135.96 1316.48,135.96"/></g><g stroke="#33A02C" stroke-width="1.35" fill="none"><polygon points="1401.58,102.29 1404.95,96.46 1398.21,96.46"/></g>
<path d="M916.26 586.78L987.87 541.22M998.76 536.57L1068.83 519.43M1080.26 515.84L1150.79 488.56M1162.30 485.34L1232.21 472.86M1244.05 470.88L1313.92 460.02M1325.83 458.62L1395.60 453.08" stroke="#FB9A99" stroke-width="1.4" fill="none"/><g stroke="#FB9A99" stroke-width="1.35" fill="none"><rect x="908.70" y="587.50" width="5.00" height="5.00"/><line x1="908.70" y1="587.50" x2="913.70" y2="592.50"/><line x1="908.70" y1="592.50" x2="913.70" y2="587.50"/></g><g stroke="#FB9A99" stroke-width="1.35" fill="none"><rect x="990.43" y="535.50" width="5.00" height="5.00"/><line x1="990.43" y1="535.50" x2="995.43" y2="540.50"/><line x1="990.43" y1="540.50" x2="995.43" y2="535.50"/></g><g stroke="#FB9A99" stroke-width="1.35" fill="none"><rect x="1072.16" y="515.50" width="5.00" height="5.00"/><line x1="1072.16" y1="515.50" x2="1077.16" y2="520.50"/><line x1="1072.16" y1="520.50" x2="1077.16" y2="515.50"/></g><g stroke="#FB9A99" stroke-width="1.35" fill="none"><rect x="1153.89" y="483.90" width="5.00" height="5.00"/><line x1="1153.89" y1="483.90" x2="1158.89" y2="488.90"/><line x1="1153.89" y1="488.90" x2="1158.89" y2="483.90"/></g><g stroke="#FB9A99" stroke-width="1.35" fill="none"><rect x="1235.62" y="469.30" width="5.00" height="5.00"/><line x1="1235.62" y1="469.30" x2="1240.62" y2="474.30"/><line x1="1235.62" y1="474.30" x2="1240.62" y2="469.30"/></g><g stroke="#FB9A99" stroke-width="1.35" fill="none"><rect x="1317.35" y="456.60" width="5.00" height="5.00"/><line x1="1317.35" y1="456.60" x2="1322.35" y2="461.60"/><line x1="1317.35" y1="461.60" x2="1322.35" y2="456.60"/></g><g stroke="#FB9A99" stroke-width="1.35" fill="none"><rect x="1399.08" y="450.10" width="5.00" height="5.00"/><line x1="1399.08" y1="450.10" x2="1404.08" y2="455.10"/><line x1="1399.08" y1="455.10" x2="1404.08" y2="450.10"/></g>
<path d="M916.39 589.99L987.74 548.61M998.57 543.56L1069.02 518.04M1080.47 514.52L1150.58 496.68M1162.38 494.85L1232.13 490.75M1244.11 490.03L1313.86 485.67M1325.82 484.67L1395.61 477.33" stroke="#E31A1C" stroke-width="1.4" fill="none"/><g stroke="#E31A1C" stroke-width="1.35" fill="none"><line x1="908.70" y1="590.50" x2="913.70" y2="595.50"/><line x1="908.70" y1="595.50" x2="913.70" y2="590.50"/><line x1="907.66" y1="593.00" x2="914.74" y2="593.00"/><line x1="911.20" y1="589.46" x2="911.20" y2="596.54"/></g><g stroke="#E31A1C" stroke-width="1.35" fill="none"><line x1="990.43" y1="543.10" x2="995.43" y2="548.10"/><line x1="990.43" y1="548.10" x2="995.43" y2="543.10"/><line x1="989.39" y1="545.60" x2="996.47" y2="545.60"/><line x1="992.93" y1="542.06" x2="992.93" y2="549.14"/></g><g stroke="#E31A1C" stroke-width="1.35" fill="none"><line x1="1072.16" y1="513.50" x2="1077.16" y2="518.50"/><line x1="1072.16" y1="518.50" x2="1077.16" y2="513.50"/><line x1="1071.12" y1="516.00" x2="1078.20" y2="516.00"/><line x1="1074.66" y1="512.46" x2="1074.66" y2="519.54"/></g><g stroke="#E31A1C" stroke-width="1.35" fill="none"><line x1="1153.89" y1="492.70" x2="1158.89" y2="497.70"/><line x1="1153.89" y1="497.70" x2="1158.89" y2="492.70"/><line x1="1152.85" y1="495.20" x2="1159.93" y2="495.20"/><line x1="1156.39" y1="491.66" x2="1156.39" y2="498.74"/></g><g stroke="#E31A1C" stroke-width="1.35" fill="none"><line x1="1235.62" y1="487.90" x2="1240.62" y2="492.90"/><line x1="1235.62" y1="492.90" x2="1240.62" y2="487.90"/><line x1="1234.58" y1="490.40" x2="1241.66" y2="490.40"/><line x1="1238.12" y1="486.86" x2="1238.12" y2="493.94"/></g><g stroke="#E31A1C" stroke-width="1.35" fill="none"><line x1="1317.35" y1="482.80" x2="1322.35" y2="487.80"/><line x1="1317.35" y1="487.80" x2="1322.35" y2="482.80"/><line x1="1316.31" y1="485.30" x2="1323.39" y2="485.30"/><line x1="1319.85" y1="481.76" x2="1319.85" y2="488.84"/></g><g stroke="#E31A1C" stroke-width="1.35" fill="none"><line x1="1399.08" y1="474.20" x2="1404.08" y2="479.20"/><line x1="1399.08" y1="479.20" x2="1404.08" y2="474.20"/><line x1="1398.04" y1="476.70" x2="1405.12" y2="476.70"/><line x1="1401.58" y1="473.16" x2="1401.58" y2="480.24"/></g>
<path d="M914.31 565.87L989.82 441.33M997.33 432.13L1070.26 364.67M1079.34 356.84L1151.71 298.76M1161.94 292.72L1232.57 263.68M1243.63 259.02L1314.34 228.48M1325.46 223.97L1395.97 197.23" stroke="#FDBF6F" stroke-width="1.4" fill="none"/><g stroke="#FDBF6F" stroke-width="1.35" fill="none"><polygon points="907.66,571.00 911.20,567.46 914.74,571.00 911.20,574.54"/><line x1="907.66" y1="571.00" x2="914.74" y2="571.00"/><line x1="911.20" y1="567.46" x2="911.20" y2="574.54"/></g><g stroke="#FDBF6F" stroke-width="1.35" fill="none"><polygon points="989.39,436.20 992.93,432.66 996.47,436.20 992.93,439.74"/><line x1="989.39" y1="436.20" x2="996.47" y2="436.20"/><line x1="992.93" y1="432.66" x2="992.93" y2="439.74"/></g><g stroke="#FDBF6F" stroke-width="1.35" fill="none"><polygon points="1071.12,360.60 1074.66,357.06 1078.20,360.60 1074.66,364.14"/><line x1="1071.12" y1="360.60" x2="1078.20" y2="360.60"/><line x1="1074.66" y1="357.06" x2="1074.66" y2="364.14"/></g><g stroke="#FDBF6F" stroke-width="1.35" fill="none"><polygon points="1152.85,295.00 1156.39,291.46 1159.93,295.00 1156.39,298.54"/><line x1="1152.85" y1="295.00" x2="1159.93" y2="295.00"/><line x1="1156.39" y1="291.46" x2="1156.39" y2="298.54"/></g><g stroke="#FDBF6F" stroke-width="1.35" fill="none"><polygon points="1234.58,261.40 1238.12,257.86 1241.66,261.40 1238.12,264.94"/><line x1="1234.58" y1="261.40" x2="1241.66" y2="261.40"/><line x1="1238.12" y1="257.86" x2="1238.12" y2="264.94"/></g><g stroke="#FDBF6F" stroke-width="1.35" fill="none"><polygon points="1316.31,226.10 1319.85,222.56 1323.39,226.10 1319.85,229.64"/><line x1="1316.31" y1="226.10" x2="1323.39" y2="226.10"/><line x1="1319.85" y1="222.56" x2="1319.85" y2="229.64"/></g><g stroke="#FDBF6F" stroke-width="1.35" fill="none"><polygon points="1398.04,195.10 1401.58,191.56 1405.12,195.10 1401.58,198.64"/><line x1="1398.04" y1="195.10" x2="1405.12" y2="195.10"/><line x1="1401.58" y1="191.56" x2="1401.58" y2="198.64"/></g>
<path d="M915.76 582.10L988.37 519.90M998.56 513.91L1069.03 487.79M1080.44 484.11L1150.61 464.79M1162.38 462.82L1232.13 458.38M1243.96 456.63L1314.01 440.27M1325.80 438.14L1395.63 429.16" stroke="#FF7F00" stroke-width="1.4" fill="none"/><g stroke="#FF7F00" stroke-width="1.35" fill="none"><circle cx="911.20" cy="586.00" r="2.50"/><line x1="908.70" y1="586.00" x2="913.70" y2="586.00"/><line x1="911.20" y1="583.50" x2="911.20" y2="588.50"/></g><g stroke="#FF7F00" stroke-width="1.35" fill="none"><circle cx="992.93" cy="516.00" r="2.50"/><line x1="990.43" y1="516.00" x2="995.43" y2="516.00"/><line x1="992.93" y1="513.50" x2="992.93" y2="518.50"/></g><g stroke="#FF7F00" stroke-width="1.35" fill="none"><circle cx="1074.66" cy="485.70" r="2.50"/><line x1="1072.16" y1="485.70" x2="1077.16" y2="485.70"/><line x1="1074.66" y1="483.20" x2="1074.66" y2="488.20"/></g><g stroke="#FF7F00" stroke-width="1.35" fill="none"><circle cx="1156.39" cy="463.20" r="2.50"/><line x1="1153.89" y1="463.20" x2="1158.89" y2="463.20"/><line x1="1156.39" y1="460.70" x2="1156.39" y2="465.70"/></g><g stroke="#FF7F00" stroke-width="1.35" fill="none"><circle cx="1238.12" cy="458.00" r="2.50"/><line x1="1235.62" y1="458.00" x2="1240.62" y2="458.00"/><line x1="1238.12" y1="455.50" x2="1238.12" y2="460.50"/></g><g stroke="#FF7F00" stroke-width="1.35" fill="none"><circle cx="1319.85" cy="438.90" r="2.50"/><line x1="1317.35" y1="438.90" x2="1322.35" y2="438.90"/><line x1="1319.85" y1="436.40" x2="1319.85" y2="441.40"/></g><g stroke="#FF7F00" stroke-width="1.35" fill="none"><circle cx="1401.58" cy="428.40" r="2.50"/><line x1="1399.08" y1="428.40" x2="1404.08" y2="428.40"/><line x1="1401.58" y1="425.90" x2="1401.58" y2="430.90"/></g>
<path d="M916.05 585.47L988.08 533.03M998.47 527.20L1069.12 497.90M1080.62 494.93L1150.43 487.07M1162.36 485.83L1232.15 479.17M1244.01 477.48L1313.96 464.12M1325.80 462.26L1395.63 453.54" stroke="#CAB2D6" stroke-width="1.4" fill="none"/><g stroke="#CAB2D6" stroke-width="1.35" fill="none"><circle cx="911.20" cy="589.00" r="2.50"/></g><g stroke="#CAB2D6" stroke-width="1.35" fill="none"><circle cx="992.93" cy="529.50" r="2.50"/></g><g stroke="#CAB2D6" stroke-width="1.35" fill="none"><circle cx="1074.66" cy="495.60" r="2.50"/></g><g stroke="#CAB2D6" stroke-width="1.35" fill="none"><circle cx="1156.39" cy="486.40" r="2.50"/></g><g stroke="#CAB2D6" stroke-width="1.35" fill="none"><circle cx="1238.12" cy="478.60" r="2.50"/></g><g stroke="#CAB2D6" stroke-width="1.35" fill="none"><circle cx="1319.85" cy="463.00" r="2.50"/></g><g stroke="#CAB2D6" stroke-width="1.35" fill="none"><circle cx="1401.58" cy="452.80" r="2.50"/></g>
<path d="M915.20 582.53L988.93 500.17M998.47 493.40L1069.12 464.00M1080.52 460.42L1150.53 445.18M1162.08 441.99L1232.43 418.41M1244.01 415.36L1313.96 401.84M1325.77 399.75L1395.66 388.55" stroke="#6A3D9A" stroke-width="1.4" fill="none"/><g stroke="#6A3D9A" stroke-width="1.35" fill="none"><polygon points="911.20,583.11 914.57,588.94 907.83,588.94"/></g><g stroke="#6A3D9A" stroke-width="1.35" fill="none"><polygon points="992.93,491.81 996.30,497.64 989.56,497.64"/></g><g stroke="#6A3D9A" stroke-width="1.35" fill="none"><polygon points="1074.66,457.81 1078.03,463.64 1071.29,463.64"/></g><g stroke="#6A3D9A" stroke-width="1.35" fill="none"><polygon points="1156.39,440.01 1159.76,445.84 1153.02,445.84"/></g><g stroke="#6A3D9A" stroke-width="1.35" fill="none"><polygon points="1238.12,412.61 1241.49,418.44 1234.75,418.44"/></g><g stroke="#6A3D9A" stroke-width="1.35" fill="none"><polygon points="1319.85,396.81 1323.22,402.64 1316.48,402.64"/></g><g stroke="#6A3D9A" stroke-width="1.35" fill="none"><polygon points="1401.58,383.71 1404.95,389.54 1398.21,389.54"/></g>
<path d="M915.89 584.25L988.24 526.45M998.71 521.09L1068.88 501.61M1080.47 498.51L1150.58 480.49M1162.26 477.78L1232.25 463.22M1244.09 461.39L1313.88 454.21M1325.81 452.91L1395.62 444.89" stroke="#FFFF99" stroke-width="1.4" fill="none"/><g stroke="#FFFF99" stroke-width="1.35" fill="none"><line x1="907.66" y1="588.00" x2="914.74" y2="588.00"/><line x1="911.20" y1="584.46" x2="911.20" y2="591.54"/></g><g stroke="#FFFF99" stroke-width="1.35" fill="none"><line x1="989.39" y1="522.70" x2="996.47" y2="522.70"/><line x1="992.93" y1="519.16" x2="992.93" y2="526.24"/></g><g stroke="#FFFF99" stroke-width="1.35" fill="none"><line x1="1071.12" y1="500.00" x2="1078.20" y2="500.00"/><line x1="1074.66" y1="496.46" x2="1074.66" y2="503.54"/></g><g stroke="#FFFF99" stroke-width="1.35" fill="none"><line x1="1152.85" y1="479.00" x2="1159.93" y2="479.00"/><line x1="1156.39" y1="475.46" x2="1156.39" y2="482.54"/></g><g stroke="#FFFF99" stroke-width="1.35" fill="none"><line x1="1234.58" y1="462.00" x2="1241.66" y2="462.00"/><line x1="1238.12" y1="458.46" x2="1238.12" y2="465.54"/></g><g stroke="#FFFF99" stroke-width="1.35" fill="none"><line x1="1316.31" y1="453.60" x2="1323.39" y2="453.60"/><line x1="1319.85" y1="450.06" x2="1319.85" y2="457.14"/></g><g stroke="#FFFF99" stroke-width="1.35" fill="none"><line x1="1398.04" y1="444.20" x2="1405.12" y2="444.20"/><line x1="1401.58" y1="440.66" x2="1401.58" y2="447.74"/></g>
<path d="M915.12 575.46L989.01 490.04M998.11 482.47L1069.48 440.63M1080.34 435.68L1150.71 411.92M1162.08 408.09L1232.43 384.51M1243.92 381.05L1314.05 362.35M1325.79 359.94L1395.64 349.76" stroke="#B15928" stroke-width="1.4" fill="none"/><g stroke="#B15928" stroke-width="1.35" fill="none"><line x1="908.70" y1="577.50" x2="913.70" y2="582.50"/><line x1="908.70" y1="582.50" x2="913.70" y2="577.50"/></g><g stroke="#B15928" stroke-width="1.35" fill="none"><line x1="990.43" y1="483.00" x2="995.43" y2="488.00"/><line x1="990.43" y1="488.00" x2="995.43" y2="483.00"/></g><g stroke="#B15928" stroke-width="1.35" fill="none"><line x1="1072.16" y1="435.10" x2="1077.16" y2="440.10"/><line x1="1072.16" y1="440.10" x2="1077.16" y2="435.10"/></g><g stroke="#B15928" stroke-width="1.35" fill="none"><line x1="1153.89" y1="407.50" x2="1158.89" y2="412.50"/><line x1="1153.89" y1="412.50" x2="1158.89" y2="407.50"/></g><g stroke="#B15928" stroke-width="1.35" fill="none"><line x1="1235.62" y1="380.10" x2="1240.62" y2="385.10"/><line x1="1235.62" y1="385.10" x2="1240.62" y2="380.10"/></g><g stroke="#B15928" stroke-width="1.35" fill="none"><line x1="1317.35" y1="358.30" x2="1322.35" y2="363.30"/><line x1="1317.35" y1="363.30" x2="1322.35" y2="358.30"/></g><g stroke="#B15928" stroke-width="1.35" fill="none"><line x1="1399.08" y1="346.40" x2="1404.08" y2="351.40"/><line x1="1399.08" y1="351.40" x2="1404.08" y2="346.40"/></g>
<line x1="1444" y1="62.10" x2="1464.3" y2="62.10" stroke="#A6CEE3" stroke-width="2.3"/>
<g stroke="#A6CEE3" stroke-width="1.8" fill="none"><circle cx="1454.15" cy="62.10" r="3.20"/></g>
<text x="1470.5" y="68.60" class="lg" textLength="25.01" lengthAdjust="spacingAndGlyphs">D11</text>
<line x1="1444" y1="79.92" x2="1464.3" y2="79.92" stroke="#1F78B4" stroke-width="2.3"/>
<g stroke="#1F78B4" stroke-width="1.8" fill="none"><polygon points="1454.15,74.94 1458.46,82.41 1449.84,82.41"/></g>
<text x="1470.5" y="86.33" class="lg" textLength="25.85" lengthAdjust="spacingAndGlyphs">D12</text>
<line x1="1444" y1="97.74" x2="1464.3" y2="97.74" stroke="#B2DF8A" stroke-width="2.3"/>
<g stroke="#B2DF8A" stroke-width="1.8" fill="none"><line x1="1449.62" y1="97.74" x2="1458.68" y2="97.74"/><line x1="1454.15" y1="93.21" x2="1454.15" y2="102.27"/></g>
<text x="1470.5" y="104.05" class="lg" textLength="25.85" lengthAdjust="spacingAndGlyphs">D13</text>
<line x1="1444" y1="115.56" x2="1464.3" y2="115.56" stroke="#33A02C" stroke-width="2.3"/>
<g stroke="#33A02C" stroke-width="1.8" fill="none"><line x1="1450.95" y1="112.36" x2="1457.35" y2="118.76"/><line x1="1450.95" y1="118.76" x2="1457.35" y2="112.36"/></g>
<text x="1470.5" y="121.78" class="lg" textLength="25.85" lengthAdjust="spacingAndGlyphs">D51</text>
<line x1="1444" y1="133.38" x2="1464.3" y2="133.38" stroke="#FB9A99" stroke-width="2.3"/>
<g stroke="#FB9A99" stroke-width="1.8" fill="none"><polygon points="1449.62,133.38 1454.15,128.85 1458.68,133.38 1454.15,137.91"/></g>
<text x="1470.5" y="139.51" class="lg" textLength="25.85" lengthAdjust="spacingAndGlyphs">D52</text>
<line x1="1444" y1="151.20" x2="1464.3" y2="151.20" stroke="#E31A1C" stroke-width="2.3"/>
<g stroke="#E31A1C" stroke-width="1.8" fill="none"><polygon points="1454.15,156.18 1458.46,148.71 1449.84,148.71"/></g>
<text x="1470.5" y="157.23" class="lg" textLength="25.85" lengthAdjust="spacingAndGlyphs">D53</text>
<line x1="1444" y1="169.02" x2="1464.3" y2="169.02" stroke="#FDBF6F" stroke-width="2.3"/>
<g stroke="#FDBF6F" stroke-width="1.8" fill="none"><rect x="1450.95" y="165.82" width="6.40" height="6.40"/><line x1="1450.95" y1="165.82" x2="1457.35" y2="172.22"/><line x1="1450.95" y1="172.22" x2="1457.35" y2="165.82"/></g>
<text x="1470.5" y="174.96" class="lg" textLength="25.85" lengthAdjust="spacingAndGlyphs">D71</text>
<line x1="1444" y1="186.84" x2="1464.3" y2="186.84" stroke="#FF7F00" stroke-width="2.3"/>
<g stroke="#FF7F00" stroke-width="1.8" fill="none"><line x1="1450.95" y1="183.64" x2="1457.35" y2="190.04"/><line x1="1450.95" y1="190.04" x2="1457.35" y2="183.64"/><line x1="1449.62" y1="186.84" x2="1458.68" y2="186.84"/><line x1="1454.15" y1="182.31" x2="1454.15" y2="191.37"/></g>
<text x="1470.5" y="192.69" class="lg" textLength="25.85" lengthAdjust="spacingAndGlyphs">D72</text>
<line x1="1444" y1="204.66" x2="1464.3" y2="204.66" stroke="#CAB2D6" stroke-width="2.3"/>
<g stroke="#CAB2D6" stroke-width="1.8" fill="none"><polygon points="1449.62,204.66 1454.15,200.13 1458.68,204.66 1454.15,209.19"/><line x1="1449.62" y1="204.66" x2="1458.68" y2="204.66"/><line x1="1454.15" y1="200.13" x2="1454.15" y2="209.19"/></g>
<text x="1470.5" y="210.42" class="lg" textLength="25.85" lengthAdjust="spacingAndGlyphs">D73</text>
<line x1="1444" y1="222.48" x2="1464.3" y2="222.48" stroke="#6A3D9A" stroke-width="2.3"/>
<g stroke="#6A3D9A" stroke-width="1.8" fill="none"><circle cx="1454.15" cy="222.48" r="3.20"/><line x1="1450.95" y1="222.48" x2="1457.35" y2="222.48"/><line x1="1454.15" y1="219.28" x2="1454.15" y2="225.68"/></g>
<text x="1470.5" y="228.14" class="lg" textLength="25.85" lengthAdjust="spacingAndGlyphs">D91</text>
<line x1="1444" y1="240.30" x2="1464.3" y2="240.30" stroke="#FFFF99" stroke-width="2.3"/>
<g stroke="#FFFF99" stroke-width="1.8" fill="none"><circle cx="1454.15" cy="240.30" r="3.20"/></g>
<text x="1470.5" y="245.87" class="lg" textLength="25.85" lengthAdjust="spacingAndGlyphs">D92</text>
<line x1="1444" y1="258.12" x2="1464.3" y2="258.12" stroke="#B15928" stroke-width="2.3"/>
<g stroke="#B15928" stroke-width="1.8" fill="none"><polygon points="1454.15,253.14 1458.46,260.61 1449.84,260.61"/></g>
<text x="1470.5" y="263.60" class="lg" textLength="25.85" lengthAdjust="spacingAndGlyphs">D93</text>
<line x1="1444" y1="275.94" x2="1464.3" y2="275.94" stroke="#A6CEE3" stroke-width="2.3"/>
<g stroke="#A6CEE3" stroke-width="1.8" fill="none"><line x1="1449.62" y1="275.94" x2="1458.68" y2="275.94"/><line x1="1454.15" y1="271.41" x2="1454.15" y2="280.47"/></g>
<text x="1470.5" y="281.32" class="lg" textLength="25.85" lengthAdjust="spacingAndGlyphs">H11</text>
<line x1="1444" y1="293.76" x2="1464.3" y2="293.76" stroke="#1F78B4" stroke-width="2.3"/>
<g stroke="#1F78B4" stroke-width="1.8" fill="none"><line x1="1450.95" y1="290.56" x2="1457.35" y2="296.96"/><line x1="1450.95" y1="296.96" x2="1457.35" y2="290.56"/></g>
<text x="1470.5" y="299.05" class="lg" textLength="26.67" lengthAdjust="spacingAndGlyphs">H12</text>
<line x1="1444" y1="311.58" x2="1464.3" y2="311.58" stroke="#B2DF8A" stroke-width="2.3"/>
<g stroke="#B2DF8A" stroke-width="1.8" fill="none"><polygon points="1449.62,311.58 1454.15,307.05 1458.68,311.58 1454.15,316.11"/></g>
<text x="1470.5" y="316.78" class="lg" textLength="26.67" lengthAdjust="spacingAndGlyphs">H13</text>
<line x1="1444" y1="329.40" x2="1464.3" y2="329.40" stroke="#33A02C" stroke-width="2.3"/>
<g stroke="#33A02C" stroke-width="1.8" fill="none"><polygon points="1454.15,334.38 1458.46,326.91 1449.84,326.91"/></g>
<text x="1470.5" y="334.51" class="lg" textLength="26.67" lengthAdjust="spacingAndGlyphs">H51</text>
<line x1="1444" y1="347.22" x2="1464.3" y2="347.22" stroke="#FB9A99" stroke-width="2.3"/>
<g stroke="#FB9A99" stroke-width="1.8" fill="none"><rect x="1450.95" y="344.02" width="6.40" height="6.40"/><line x1="1450.95" y1="344.02" x2="1457.35" y2="350.42"/><line x1="1450.95" y1="350.42" x2="1457.35" y2="344.02"/></g>
<text x="1470.5" y="352.23" class="lg" textLength="26.67" lengthAdjust="spacingAndGlyphs">H52</text>
<line x1="1444" y1="365.04" x2="1464.3" y2="365.04" stroke="#E31A1C" stroke-width="2.3"/>
<g stroke="#E31A1C" stroke-width="1.8" fill="none"><line x1="1450.95" y1="361.84" x2="1457.35" y2="368.24"/><line x1="1450.95" y1="368.24" x2="1457.35" y2="361.84"/><line x1="1449.62" y1="365.04" x2="1458.68" y2="365.04"/><line x1="1454.15" y1="360.51" x2="1454.15" y2="369.57"/></g>
<text x="1470.5" y="369.96" class="lg" textLength="26.67" lengthAdjust="spacingAndGlyphs">H53</text>
<line x1="1444" y1="382.86" x2="1464.3" y2="382.86" stroke="#FDBF6F" stroke-width="2.3"/>
<g stroke="#FDBF6F" stroke-width="1.8" fill="none"><polygon points="1449.62,382.86 1454.15,378.33 1458.68,382.86 1454.15,387.39"/><line x1="1449.62" y1="382.86" x2="1458.68" y2="382.86"/><line x1="1454.15" y1="378.33" x2="1454.15" y2="387.39"/></g>
<text x="1470.5" y="387.69" class="lg" textLength="26.67" lengthAdjust="spacingAndGlyphs">H71</text>
<line x1="1444" y1="400.68" x2="1464.3" y2="400.68" stroke="#FF7F00" stroke-width="2.3"/>
<g stroke="#FF7F00" stroke-width="1.8" fill="none"><circle cx="1454.15" cy="400.68" r="3.20"/><line x1="1450.95" y1="400.68" x2="1457.35" y2="400.68"/><line x1="1454.15" y1="397.48" x2="1454.15" y2="403.88"/></g>
<text x="1470.5" y="405.41" class="lg" textLength="26.67" lengthAdjust="spacingAndGlyphs">H72</text>
<line x1="1444" y1="418.50" x2="1464.3" y2="418.50" stroke="#CAB2D6" stroke-width="2.3"/>
<g stroke="#CAB2D6" stroke-width="1.8" fill="none"><circle cx="1454.15" cy="418.50" r="3.20"/></g>
<text x="1470.5" y="423.14" class="lg" textLength="26.67" lengthAdjust="spacingAndGlyphs">H73</text>
<line x1="1444" y1="436.32" x2="1464.3" y2="436.32" stroke="#6A3D9A" stroke-width="2.3"/>
<g stroke="#6A3D9A" stroke-width="1.8" fill="none"><polygon points="1454.15,431.34 1458.46,438.81 1449.84,438.81"/></g>
<text x="1470.5" y="440.87" class="lg" textLength="26.67" lengthAdjust="spacingAndGlyphs">H91</text>
<line x1="1444" y1="454.14" x2="1464.3" y2="454.14" stroke="#FFFF99" stroke-width="2.3"/>
<g stroke="#FFFF99" stroke-width="1.8" fill="none"><line x1="1449.62" y1="454.14" x2="1458.68" y2="454.14"/><line x1="1454.15" y1="449.61" x2="1454.15" y2="458.67"/></g>
<text x="1470.5" y="458.59" class="lg" textLength="26.67" lengthAdjust="spacingAndGlyphs">H92</text>
<line x1="1444" y1="471.96" x2="1464.3" y2="471.96" stroke="#B15928" stroke-width="2.3"/>
<g stroke="#B15928" stroke-width="1.8" fill="none"><line x1="1450.95" y1="468.76" x2="1457.35" y2="475.16"/><line x1="1450.95" y1="475.16" x2="1457.35" y2="468.76"/></g>
<text x="1470.5" y="476.32" class="lg" textLength="26.67" lengthAdjust="spacingAndGlyphs">H93</text>
</svg>
</body></html>
